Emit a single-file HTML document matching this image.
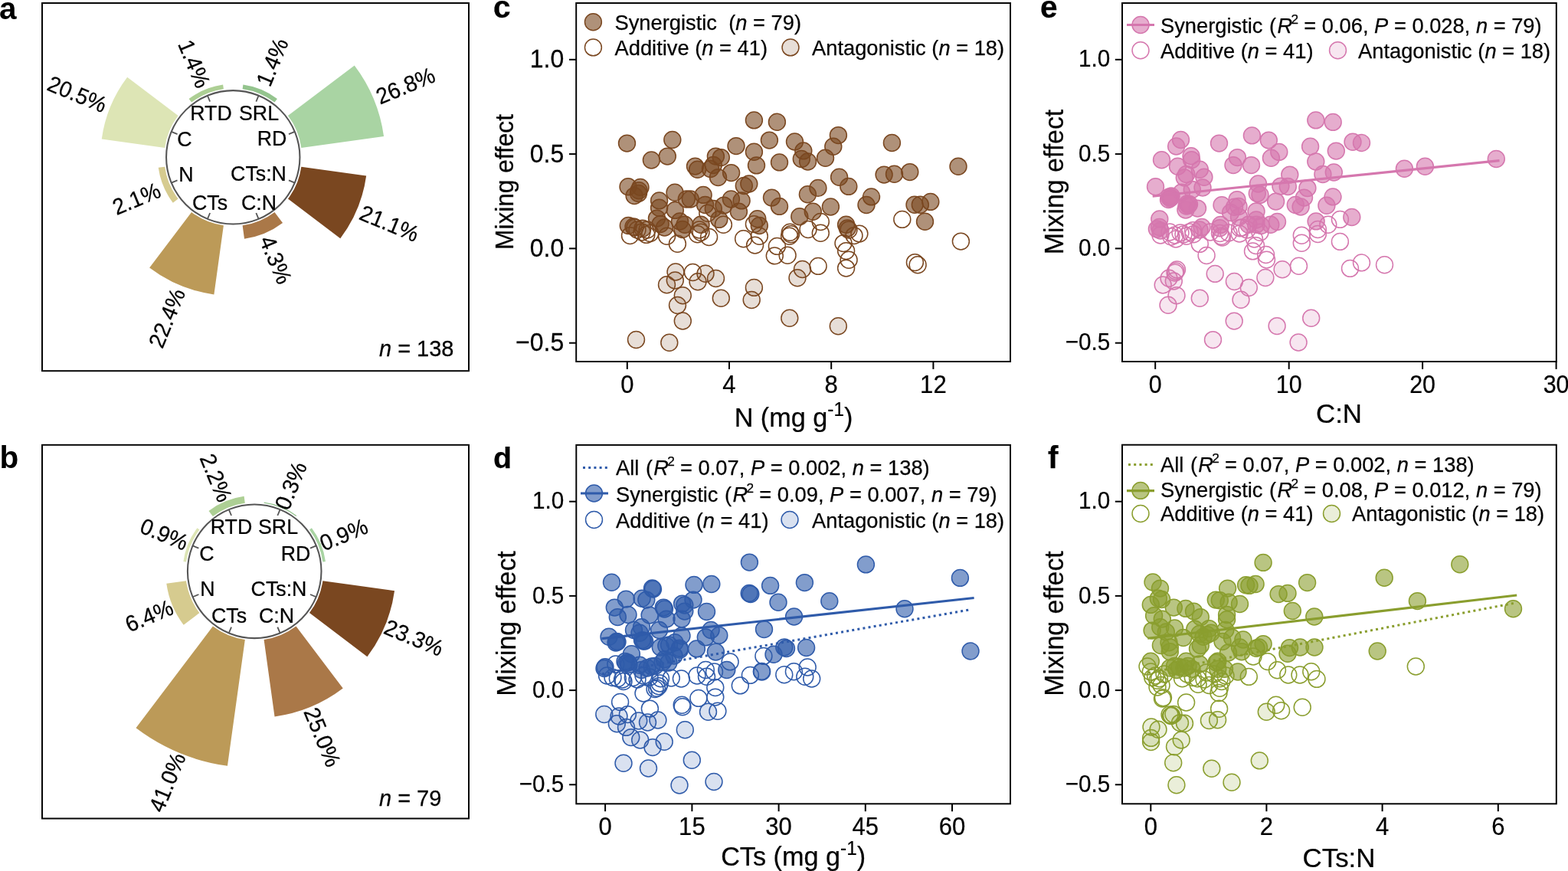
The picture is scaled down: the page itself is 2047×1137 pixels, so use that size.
<!DOCTYPE html>
<html><head><meta charset="utf-8"><title>Figure</title>
<style>html,body{margin:0;padding:0;background:#fff;overflow:hidden}svg{display:block}text{white-space:pre}</style></head>
<body><svg width="2047" height="1137" viewBox="0 0 2047 1137">
<rect width="2047" height="1137" fill="#fff"/>
<rect x="55" y="4" width="557" height="480.2" fill="none" stroke="#000" stroke-width="1.95"/>
<path d="M393.30,192.94 L501.07,177.99 A198.71,198.71 0 0 0 462.74,85.44 L375.95,151.07 A89.90,89.90 0 0 1 393.30,192.94 Z" fill="#a9d4a3"/>
<path d="M358.48,133.60 L361.91,129.06 A95.58,95.58 0 0 0 317.39,110.62 L316.61,116.25 A89.90,89.90 0 0 1 358.48,133.60 Z" fill="#94c48e"/>
<path d="M291.89,116.25 L291.11,110.62 A95.58,95.58 0 0 0 246.59,129.06 L250.02,133.60 A89.90,89.90 0 0 1 291.89,116.25 Z" fill="#adcf94"/>
<path d="M232.55,151.07 L166.16,100.87 A173.13,173.13 0 0 0 132.76,181.50 L215.20,192.94 A89.90,89.90 0 0 1 232.55,151.07 Z" fill="#dde5b5"/>
<path d="M215.20,217.66 L206.76,218.83 A98.43,98.43 0 0 0 225.75,264.67 L232.55,259.53 A89.90,89.90 0 0 1 215.20,217.66 Z" fill="#d6cb8f"/>
<path d="M250.02,277.00 L195.16,349.54 A180.84,180.84 0 0 0 279.39,384.43 L291.89,294.35 A89.90,89.90 0 0 1 250.02,277.00 Z" fill="#bc9a58"/>
<path d="M316.61,294.35 L319.01,311.64 A107.36,107.36 0 0 0 369.01,290.93 L358.48,277.00 A89.90,89.90 0 0 1 316.61,294.35 Z" fill="#aa7848"/>
<path d="M375.95,259.53 L444.28,311.20 A175.57,175.57 0 0 0 478.15,229.43 L393.30,217.66 A89.90,89.90 0 0 1 375.95,259.53 Z" fill="#7a4720"/>
<circle cx="304.25" cy="205.3" r="87.2" fill="#fff" stroke="#555" stroke-width="2.05"/>
<line x1="384.81" y1="171.93" x2="376.96" y2="175.18" stroke="#555" stroke-width="1.8"/>
<line x1="337.62" y1="124.74" x2="334.37" y2="132.59" stroke="#555" stroke-width="1.8"/>
<line x1="270.88" y1="124.74" x2="274.13" y2="132.59" stroke="#555" stroke-width="1.8"/>
<line x1="223.69" y1="171.93" x2="231.54" y2="175.18" stroke="#555" stroke-width="1.8"/>
<line x1="223.69" y1="238.67" x2="231.54" y2="235.42" stroke="#555" stroke-width="1.8"/>
<line x1="270.88" y1="285.86" x2="274.13" y2="278.01" stroke="#555" stroke-width="1.8"/>
<line x1="337.62" y1="285.86" x2="334.37" y2="278.01" stroke="#555" stroke-width="1.8"/>
<line x1="384.81" y1="238.67" x2="376.96" y2="235.42" stroke="#555" stroke-width="1.8"/>
<text transform="translate(275.5,156.5) scale(0.98,1)" font-family="Liberation Sans, sans-serif" font-size="27.3" text-anchor="middle" fill="#000" stroke="#000" stroke-width="0.25">RTD</text>
<text transform="translate(338,156.5) scale(0.98,1)" font-family="Liberation Sans, sans-serif" font-size="27.3" text-anchor="middle" fill="#000" stroke="#000" stroke-width="0.25">SRL</text>
<text transform="translate(241,190.5) scale(0.98,1)" font-family="Liberation Sans, sans-serif" font-size="27.3" text-anchor="middle" fill="#000" stroke="#000" stroke-width="0.25">C</text>
<text transform="translate(355,190) scale(0.98,1)" font-family="Liberation Sans, sans-serif" font-size="27.3" text-anchor="middle" fill="#000" stroke="#000" stroke-width="0.25">RD</text>
<text transform="translate(243,237) scale(0.98,1)" font-family="Liberation Sans, sans-serif" font-size="27.3" text-anchor="middle" fill="#000" stroke="#000" stroke-width="0.25">N</text>
<text transform="translate(337.5,236) scale(0.98,1)" font-family="Liberation Sans, sans-serif" font-size="27.3" text-anchor="middle" fill="#000" stroke="#000" stroke-width="0.25">CTs:N</text>
<text transform="translate(274,274) scale(0.98,1)" font-family="Liberation Sans, sans-serif" font-size="27.3" text-anchor="middle" fill="#000" stroke="#000" stroke-width="0.25">CTs</text>
<text transform="translate(338,274) scale(0.98,1)" font-family="Liberation Sans, sans-serif" font-size="27.3" text-anchor="middle" fill="#000" stroke="#000" stroke-width="0.25">C:N</text>
<text transform="translate(529.2,111.5) rotate(-22.5) scale(0.96,1)" font-family="Liberation Sans, sans-serif" font-size="29.5" text-anchor="middle" fill="#000" dy="0.36em" stroke="#000" stroke-width="0.25">26.8%</text>
<text transform="translate(355,81) rotate(-67.5) scale(0.96,1)" font-family="Liberation Sans, sans-serif" font-size="29.5" text-anchor="middle" fill="#000" dy="0.36em" stroke="#000" stroke-width="0.25">1.4%</text>
<text transform="translate(254,83) rotate(67.5) scale(0.96,1)" font-family="Liberation Sans, sans-serif" font-size="29.5" text-anchor="middle" fill="#000" dy="0.36em" stroke="#000" stroke-width="0.25">1.4%</text>
<text transform="translate(101,122.5) rotate(22.5) scale(0.96,1)" font-family="Liberation Sans, sans-serif" font-size="29.5" text-anchor="middle" fill="#000" dy="0.36em" stroke="#000" stroke-width="0.25">20.5%</text>
<text transform="translate(178,259) rotate(-22.5) scale(0.96,1)" font-family="Liberation Sans, sans-serif" font-size="29.5" text-anchor="middle" fill="#000" dy="0.36em" stroke="#000" stroke-width="0.25">2.1%</text>
<text transform="translate(217.5,415) rotate(-67.5) scale(0.96,1)" font-family="Liberation Sans, sans-serif" font-size="29.5" text-anchor="middle" fill="#000" dy="0.36em" stroke="#000" stroke-width="0.25">22.4%</text>
<text transform="translate(360.5,339) rotate(67.5) scale(0.96,1)" font-family="Liberation Sans, sans-serif" font-size="29.5" text-anchor="middle" fill="#000" dy="0.36em" stroke="#000" stroke-width="0.25">4.3%</text>
<text transform="translate(508.5,291.3) rotate(22.5) scale(0.96,1)" font-family="Liberation Sans, sans-serif" font-size="29.5" text-anchor="middle" fill="#000" dy="0.36em" stroke="#000" stroke-width="0.25">21.1%</text>
<text transform="translate(495,465) scale(0.985,1)" font-family="Liberation Sans, sans-serif" font-size="29.4" fill="#000" stroke="#000" stroke-width="0.25"><tspan font-style="italic">n</tspan> = 138</text>
<text x="-1" y="25.2" font-family="Liberation Sans, sans-serif" font-size="40.5" font-weight="bold" fill="#000">a</text>
<rect x="55" y="580.8" width="557" height="487.70000000000005" fill="none" stroke="#000" stroke-width="1.95"/>
<path d="M421.35,733.43 L424.97,732.93 A93.65,93.65 0 0 0 406.90,689.31 L403.98,691.51 A90.00,90.00 0 0 1 421.35,733.43 Z" fill="#a9d4a3"/>
<path d="M386.49,674.02 L387.22,673.05 A91.22,91.22 0 0 0 344.74,655.45 L344.57,656.65 A90.00,90.00 0 0 1 386.49,674.02 Z" fill="#94c48e"/>
<path d="M319.83,656.65 L318.60,647.81 A98.93,98.93 0 0 0 272.52,666.89 L277.91,674.02 A90.00,90.00 0 0 1 319.83,656.65 Z" fill="#adcf94"/>
<path d="M260.42,691.51 L257.50,689.31 A93.65,93.65 0 0 0 239.43,732.93 L243.05,733.43 A90.00,90.00 0 0 1 260.42,691.51 Z" fill="#dde5b5"/>
<path d="M243.05,758.17 L217.32,761.74 A115.98,115.98 0 0 0 239.69,815.76 L260.42,800.09 A90.00,90.00 0 0 1 243.05,758.17 Z" fill="#d6cb8f"/>
<path d="M277.91,817.58 L177.50,950.35 A256.46,256.46 0 0 0 296.95,999.83 L319.83,834.95 A90.00,90.00 0 0 1 277.91,817.58 Z" fill="#bc9a58"/>
<path d="M344.57,834.95 L358.52,935.48 A191.50,191.50 0 0 0 447.71,898.54 L386.49,817.58 A90.00,90.00 0 0 1 344.57,834.95 Z" fill="#aa7848"/>
<path d="M403.98,800.09 L479.43,857.15 A184.60,184.60 0 0 0 515.05,771.17 L421.35,758.17 A90.00,90.00 0 0 1 403.98,800.09 Z" fill="#7a4720"/>
<circle cx="332.2" cy="745.8" r="87.3" fill="#fff" stroke="#555" stroke-width="2.05"/>
<line x1="412.85" y1="712.39" x2="405.00" y2="715.64" stroke="#555" stroke-width="1.8"/>
<line x1="365.61" y1="665.15" x2="362.36" y2="673.00" stroke="#555" stroke-width="1.8"/>
<line x1="298.79" y1="665.15" x2="302.04" y2="673.00" stroke="#555" stroke-width="1.8"/>
<line x1="251.55" y1="712.39" x2="259.40" y2="715.64" stroke="#555" stroke-width="1.8"/>
<line x1="251.55" y1="779.21" x2="259.40" y2="775.96" stroke="#555" stroke-width="1.8"/>
<line x1="298.79" y1="826.45" x2="302.04" y2="818.60" stroke="#555" stroke-width="1.8"/>
<line x1="365.61" y1="826.45" x2="362.36" y2="818.60" stroke="#555" stroke-width="1.8"/>
<line x1="412.85" y1="779.21" x2="405.00" y2="775.96" stroke="#555" stroke-width="1.8"/>
<text transform="translate(302,697) scale(0.98,1)" font-family="Liberation Sans, sans-serif" font-size="27.3" text-anchor="middle" fill="#000" stroke="#000" stroke-width="0.25">RTD</text>
<text transform="translate(363,697) scale(0.98,1)" font-family="Liberation Sans, sans-serif" font-size="27.3" text-anchor="middle" fill="#000" stroke="#000" stroke-width="0.25">SRL</text>
<text transform="translate(270,732) scale(0.98,1)" font-family="Liberation Sans, sans-serif" font-size="27.3" text-anchor="middle" fill="#000" stroke="#000" stroke-width="0.25">C</text>
<text transform="translate(386,732) scale(0.98,1)" font-family="Liberation Sans, sans-serif" font-size="27.3" text-anchor="middle" fill="#000" stroke="#000" stroke-width="0.25">RD</text>
<text transform="translate(271,778) scale(0.98,1)" font-family="Liberation Sans, sans-serif" font-size="27.3" text-anchor="middle" fill="#000" stroke="#000" stroke-width="0.25">N</text>
<text transform="translate(364,778) scale(0.98,1)" font-family="Liberation Sans, sans-serif" font-size="27.3" text-anchor="middle" fill="#000" stroke="#000" stroke-width="0.25">CTs:N</text>
<text transform="translate(299,813) scale(0.98,1)" font-family="Liberation Sans, sans-serif" font-size="27.3" text-anchor="middle" fill="#000" stroke="#000" stroke-width="0.25">CTs</text>
<text transform="translate(361,813) scale(0.98,1)" font-family="Liberation Sans, sans-serif" font-size="27.3" text-anchor="middle" fill="#000" stroke="#000" stroke-width="0.25">C:N</text>
<text transform="translate(448.5,697.5) rotate(-22.5) scale(0.96,1)" font-family="Liberation Sans, sans-serif" font-size="29.5" text-anchor="middle" fill="#000" dy="0.36em" stroke="#000" stroke-width="0.25">0.9%</text>
<text transform="translate(379.2,634) rotate(-67.5) scale(0.96,1)" font-family="Liberation Sans, sans-serif" font-size="29.5" text-anchor="middle" fill="#000" dy="0.36em" stroke="#000" stroke-width="0.25">0.3%</text>
<text transform="translate(282.5,623.5) rotate(67.5) scale(0.96,1)" font-family="Liberation Sans, sans-serif" font-size="29.5" text-anchor="middle" fill="#000" dy="0.36em" stroke="#000" stroke-width="0.25">2.2%</text>
<text transform="translate(214.5,697) rotate(22.5) scale(0.96,1)" font-family="Liberation Sans, sans-serif" font-size="29.5" text-anchor="middle" fill="#000" dy="0.36em" stroke="#000" stroke-width="0.25">0.9%</text>
<text transform="translate(194.5,803.5) rotate(-22.5) scale(0.96,1)" font-family="Liberation Sans, sans-serif" font-size="29.5" text-anchor="middle" fill="#000" dy="0.36em" stroke="#000" stroke-width="0.25">6.4%</text>
<text transform="translate(218,1021) rotate(-67.5) scale(0.96,1)" font-family="Liberation Sans, sans-serif" font-size="29.5" text-anchor="middle" fill="#000" dy="0.36em" stroke="#000" stroke-width="0.25">41.0%</text>
<text transform="translate(421.3,962) rotate(67.5) scale(0.96,1)" font-family="Liberation Sans, sans-serif" font-size="29.5" text-anchor="middle" fill="#000" dy="0.36em" stroke="#000" stroke-width="0.25">25.0%</text>
<text transform="translate(540.5,832) rotate(22.5) scale(0.96,1)" font-family="Liberation Sans, sans-serif" font-size="29.5" text-anchor="middle" fill="#000" dy="0.36em" stroke="#000" stroke-width="0.25">23.3%</text>
<text transform="translate(495,1052) scale(0.985,1)" font-family="Liberation Sans, sans-serif" font-size="29.4" fill="#000" stroke="#000" stroke-width="0.25"><tspan font-style="italic">n</tspan> = 79</text>
<text x="-0.5" y="611.1" font-family="Liberation Sans, sans-serif" font-size="40.5" font-weight="bold" fill="#000">b</text>
<rect x="752.2" y="4" width="566.8" height="468" fill="none" stroke="#000" stroke-width="1.95"/>
<line x1="818.8" y1="472" x2="818.8" y2="481.9" stroke="#000" stroke-width="2.0"/>
<text transform="translate(818.8,513) scale(0.93,1)" font-family="Liberation Sans, sans-serif" font-size="33.4" text-anchor="middle" fill="#000" stroke="#000" stroke-width="0.25">0</text>
<line x1="952" y1="472" x2="952" y2="481.9" stroke="#000" stroke-width="2.0"/>
<text transform="translate(952,513) scale(0.93,1)" font-family="Liberation Sans, sans-serif" font-size="33.4" text-anchor="middle" fill="#000" stroke="#000" stroke-width="0.25">4</text>
<line x1="1085.2" y1="472" x2="1085.2" y2="481.9" stroke="#000" stroke-width="2.0"/>
<text transform="translate(1085.2,513) scale(0.93,1)" font-family="Liberation Sans, sans-serif" font-size="33.4" text-anchor="middle" fill="#000" stroke="#000" stroke-width="0.25">8</text>
<line x1="1218.4" y1="472" x2="1218.4" y2="481.9" stroke="#000" stroke-width="2.0"/>
<text transform="translate(1218.4,513) scale(0.93,1)" font-family="Liberation Sans, sans-serif" font-size="33.4" text-anchor="middle" fill="#000" stroke="#000" stroke-width="0.25">12</text>
<line x1="743.0" y1="77.8" x2="752.2" y2="77.8" stroke="#000" stroke-width="2.0"/>
<text transform="translate(736.2,88.2) scale(0.95,1)" font-family="Liberation Sans, sans-serif" font-size="33.7" text-anchor="end" fill="#000" stroke="#000" stroke-width="0.25">1.0</text>
<line x1="743.0" y1="201.1" x2="752.2" y2="201.1" stroke="#000" stroke-width="2.0"/>
<text transform="translate(736.2,211.5) scale(0.95,1)" font-family="Liberation Sans, sans-serif" font-size="33.7" text-anchor="end" fill="#000" stroke="#000" stroke-width="0.25">0.5</text>
<line x1="743.0" y1="324.4" x2="752.2" y2="324.4" stroke="#000" stroke-width="2.0"/>
<text transform="translate(736.2,334.79999999999995) scale(0.95,1)" font-family="Liberation Sans, sans-serif" font-size="33.7" text-anchor="end" fill="#000" stroke="#000" stroke-width="0.25">0.0</text>
<line x1="743.0" y1="447.7" x2="752.2" y2="447.7" stroke="#000" stroke-width="2.0"/>
<text transform="translate(736.2,458.09999999999997) scale(0.95,1)" font-family="Liberation Sans, sans-serif" font-size="33.7" text-anchor="end" fill="#000" stroke="#000" stroke-width="0.25">−0.5</text>
<text transform="translate(1036,557) scale(0.9725,1)" font-family="Liberation Sans, sans-serif" font-size="35.2" text-anchor="middle" fill="#000" stroke="#000" stroke-width="0.25">N (mg g<tspan dy="-14.4" font-size="25.0">-1</tspan><tspan dy="14.4" font-size="35.2">&#8203;</tspan>)</text>
<text transform="translate(669.5,237.5) rotate(-90) scale(0.947,1)" font-family="Liberation Sans, sans-serif" font-size="33.4" text-anchor="middle" fill="#000" stroke="#000" stroke-width="0.25">Mixing effect</text>
<text transform="translate(644,22.6)" font-family="Liberation Sans, sans-serif" font-size="40.5" text-anchor="start" fill="#000" font-weight="bold" stroke="#000" stroke-width="0.25">c</text>
<g>
<circle cx="822.5" cy="307.6" r="10.95" fill="#7a4720" fill-opacity="0.0" stroke="#7a4720" stroke-width="1.5"/>
<circle cx="843.8" cy="306.4" r="10.95" fill="#7a4720" fill-opacity="0.0" stroke="#7a4720" stroke-width="1.5"/>
<circle cx="848.8" cy="304.5" r="10.95" fill="#7a4720" fill-opacity="0.0" stroke="#7a4720" stroke-width="1.5"/>
<circle cx="870.6" cy="308.3" r="10.95" fill="#7a4720" fill-opacity="0.0" stroke="#7a4720" stroke-width="1.5"/>
<circle cx="884.4" cy="318.3" r="10.95" fill="#7a4720" fill-opacity="0.0" stroke="#7a4720" stroke-width="1.5"/>
<circle cx="910.6" cy="305.8" r="10.95" fill="#7a4720" fill-opacity="0.0" stroke="#7a4720" stroke-width="1.5"/>
<circle cx="915.0" cy="303.3" r="10.95" fill="#7a4720" fill-opacity="0.0" stroke="#7a4720" stroke-width="1.5"/>
<circle cx="925.6" cy="309.5" r="10.95" fill="#7a4720" fill-opacity="0.0" stroke="#7a4720" stroke-width="1.5"/>
<circle cx="944.4" cy="293.3" r="10.95" fill="#7a4720" fill-opacity="0.0" stroke="#7a4720" stroke-width="1.5"/>
<circle cx="923.8" cy="278.3" r="10.95" fill="#7a4720" fill-opacity="0.0" stroke="#7a4720" stroke-width="1.5"/>
<circle cx="970.6" cy="311.8" r="10.95" fill="#7a4720" fill-opacity="0.0" stroke="#7a4720" stroke-width="1.5"/>
<circle cx="985.6" cy="320.1" r="10.95" fill="#7a4720" fill-opacity="0.0" stroke="#7a4720" stroke-width="1.5"/>
<circle cx="984.4" cy="292.6" r="10.95" fill="#7a4720" fill-opacity="0.0" stroke="#7a4720" stroke-width="1.5"/>
<circle cx="991.3" cy="308.3" r="10.95" fill="#7a4720" fill-opacity="0.0" stroke="#7a4720" stroke-width="1.5"/>
<circle cx="1014.4" cy="321.4" r="10.95" fill="#7a4720" fill-opacity="0.0" stroke="#7a4720" stroke-width="1.5"/>
<circle cx="1031.3" cy="303.3" r="10.95" fill="#7a4720" fill-opacity="0.0" stroke="#7a4720" stroke-width="1.5"/>
<circle cx="1032.5" cy="305.8" r="10.95" fill="#7a4720" fill-opacity="0.0" stroke="#7a4720" stroke-width="1.5"/>
<circle cx="1030.6" cy="308.3" r="10.95" fill="#7a4720" fill-opacity="0.0" stroke="#7a4720" stroke-width="1.5"/>
<circle cx="1055.0" cy="299.5" r="10.95" fill="#7a4720" fill-opacity="0.0" stroke="#7a4720" stroke-width="1.5"/>
<circle cx="1011.3" cy="333.9" r="10.95" fill="#7a4720" fill-opacity="0.0" stroke="#7a4720" stroke-width="1.5"/>
<circle cx="1028.1" cy="333.3" r="10.95" fill="#7a4720" fill-opacity="0.0" stroke="#7a4720" stroke-width="1.5"/>
<circle cx="904.4" cy="355.5" r="10.95" fill="#7a4720" fill-opacity="0.0" stroke="#7a4720" stroke-width="1.5"/>
<circle cx="1071.3" cy="289.5" r="10.95" fill="#7a4720" fill-opacity="0.0" stroke="#7a4720" stroke-width="1.5"/>
<circle cx="1071.3" cy="304.3" r="10.95" fill="#7a4720" fill-opacity="0.0" stroke="#7a4720" stroke-width="1.5"/>
<circle cx="1177.8" cy="286.4" r="10.95" fill="#7a4720" fill-opacity="0.0" stroke="#7a4720" stroke-width="1.5"/>
<circle cx="1254.4" cy="315.1" r="10.95" fill="#7a4720" fill-opacity="0.0" stroke="#7a4720" stroke-width="1.5"/>
<circle cx="1121.9" cy="305.1" r="10.95" fill="#7a4720" fill-opacity="0.0" stroke="#7a4720" stroke-width="1.5"/>
<circle cx="1115.0" cy="307.6" r="10.95" fill="#7a4720" fill-opacity="0.0" stroke="#7a4720" stroke-width="1.5"/>
<circle cx="1108.0" cy="300.0" r="10.95" fill="#7a4720" fill-opacity="0.0" stroke="#7a4720" stroke-width="1.5"/>
<circle cx="1101.0" cy="317.6" r="10.95" fill="#7a4720" fill-opacity="0.0" stroke="#7a4720" stroke-width="1.5"/>
<circle cx="1104.6" cy="327.6" r="10.95" fill="#7a4720" fill-opacity="0.0" stroke="#7a4720" stroke-width="1.5"/>
<circle cx="1108.1" cy="339.3" r="10.95" fill="#7a4720" fill-opacity="0.0" stroke="#7a4720" stroke-width="1.5"/>
<circle cx="1104.6" cy="350.1" r="10.95" fill="#7a4720" fill-opacity="0.0" stroke="#7a4720" stroke-width="1.5"/>
<circle cx="1068.1" cy="347.4" r="10.95" fill="#7a4720" fill-opacity="0.0" stroke="#7a4720" stroke-width="1.5"/>
<circle cx="1194.4" cy="342.6" r="10.95" fill="#7a4720" fill-opacity="0.0" stroke="#7a4720" stroke-width="1.5"/>
<circle cx="1198.1" cy="345.8" r="10.95" fill="#7a4720" fill-opacity="0.0" stroke="#7a4720" stroke-width="1.5"/>
<circle cx="832.0" cy="300.0" r="10.95" fill="#7a4720" fill-opacity="0.0" stroke="#7a4720" stroke-width="1.5"/>
<circle cx="838.0" cy="303.0" r="10.95" fill="#7a4720" fill-opacity="0.0" stroke="#7a4720" stroke-width="1.5"/>
<circle cx="829.0" cy="297.0" r="10.95" fill="#7a4720" fill-opacity="0.0" stroke="#7a4720" stroke-width="1.5"/>
<circle cx="845.0" cy="300.0" r="10.95" fill="#7a4720" fill-opacity="0.0" stroke="#7a4720" stroke-width="1.5"/>
<circle cx="913.0" cy="300.0" r="10.95" fill="#7a4720" fill-opacity="0.0" stroke="#7a4720" stroke-width="1.5"/>
<circle cx="830.5" cy="443.5" r="10.95" fill="#7a4720" fill-opacity="0.18" stroke="#7a4720" stroke-width="1.5"/>
<circle cx="873.8" cy="447.3" r="10.95" fill="#7a4720" fill-opacity="0.18" stroke="#7a4720" stroke-width="1.5"/>
<circle cx="891.3" cy="419.0" r="10.95" fill="#7a4720" fill-opacity="0.18" stroke="#7a4720" stroke-width="1.5"/>
<circle cx="884.5" cy="398.5" r="10.95" fill="#7a4720" fill-opacity="0.18" stroke="#7a4720" stroke-width="1.5"/>
<circle cx="891.3" cy="385.8" r="10.95" fill="#7a4720" fill-opacity="0.18" stroke="#7a4720" stroke-width="1.5"/>
<circle cx="870.5" cy="371.8" r="10.95" fill="#7a4720" fill-opacity="0.18" stroke="#7a4720" stroke-width="1.5"/>
<circle cx="881.3" cy="366.0" r="10.95" fill="#7a4720" fill-opacity="0.18" stroke="#7a4720" stroke-width="1.5"/>
<circle cx="882.0" cy="355.0" r="10.95" fill="#7a4720" fill-opacity="0.18" stroke="#7a4720" stroke-width="1.5"/>
<circle cx="911.0" cy="367.7" r="10.95" fill="#7a4720" fill-opacity="0.18" stroke="#7a4720" stroke-width="1.5"/>
<circle cx="921.0" cy="357.3" r="10.95" fill="#7a4720" fill-opacity="0.18" stroke="#7a4720" stroke-width="1.5"/>
<circle cx="934.5" cy="363.5" r="10.95" fill="#7a4720" fill-opacity="0.18" stroke="#7a4720" stroke-width="1.5"/>
<circle cx="941.3" cy="389.2" r="10.95" fill="#7a4720" fill-opacity="0.18" stroke="#7a4720" stroke-width="1.5"/>
<circle cx="984.4" cy="375.4" r="10.95" fill="#7a4720" fill-opacity="0.18" stroke="#7a4720" stroke-width="1.5"/>
<circle cx="981.2" cy="391.5" r="10.95" fill="#7a4720" fill-opacity="0.18" stroke="#7a4720" stroke-width="1.5"/>
<circle cx="1030.8" cy="415.3" r="10.95" fill="#7a4720" fill-opacity="0.18" stroke="#7a4720" stroke-width="1.5"/>
<circle cx="1094.3" cy="425.8" r="10.95" fill="#7a4720" fill-opacity="0.18" stroke="#7a4720" stroke-width="1.5"/>
<circle cx="1047.5" cy="351.5" r="10.95" fill="#7a4720" fill-opacity="0.18" stroke="#7a4720" stroke-width="1.5"/>
<circle cx="1041.0" cy="362.8" r="10.95" fill="#7a4720" fill-opacity="0.18" stroke="#7a4720" stroke-width="1.5"/>
<circle cx="818.5" cy="187.1" r="10.95" fill="#7a4720" fill-opacity="0.6" stroke="#7a4720" stroke-width="1.5"/>
<circle cx="877.8" cy="182.5" r="10.95" fill="#7a4720" fill-opacity="0.6" stroke="#7a4720" stroke-width="1.5"/>
<circle cx="871.3" cy="204.1" r="10.95" fill="#7a4720" fill-opacity="0.6" stroke="#7a4720" stroke-width="1.5"/>
<circle cx="850.4" cy="209.0" r="10.95" fill="#7a4720" fill-opacity="0.6" stroke="#7a4720" stroke-width="1.5"/>
<circle cx="984.4" cy="156.9" r="10.95" fill="#7a4720" fill-opacity="0.6" stroke="#7a4720" stroke-width="1.5"/>
<circle cx="1014.4" cy="159.3" r="10.95" fill="#7a4720" fill-opacity="0.6" stroke="#7a4720" stroke-width="1.5"/>
<circle cx="1004.4" cy="183.1" r="10.95" fill="#7a4720" fill-opacity="0.6" stroke="#7a4720" stroke-width="1.5"/>
<circle cx="961.0" cy="190.6" r="10.95" fill="#7a4720" fill-opacity="0.6" stroke="#7a4720" stroke-width="1.5"/>
<circle cx="984.4" cy="198.3" r="10.95" fill="#7a4720" fill-opacity="0.6" stroke="#7a4720" stroke-width="1.5"/>
<circle cx="1037.5" cy="185.0" r="10.95" fill="#7a4720" fill-opacity="0.6" stroke="#7a4720" stroke-width="1.5"/>
<circle cx="1048.8" cy="196.9" r="10.95" fill="#7a4720" fill-opacity="0.6" stroke="#7a4720" stroke-width="1.5"/>
<circle cx="1046.3" cy="207.5" r="10.95" fill="#7a4720" fill-opacity="0.6" stroke="#7a4720" stroke-width="1.5"/>
<circle cx="1054.6" cy="211.0" r="10.95" fill="#7a4720" fill-opacity="0.6" stroke="#7a4720" stroke-width="1.5"/>
<circle cx="987.5" cy="215.9" r="10.95" fill="#7a4720" fill-opacity="0.6" stroke="#7a4720" stroke-width="1.5"/>
<circle cx="1017.5" cy="211.9" r="10.95" fill="#7a4720" fill-opacity="0.6" stroke="#7a4720" stroke-width="1.5"/>
<circle cx="934.4" cy="204.1" r="10.95" fill="#7a4720" fill-opacity="0.6" stroke="#7a4720" stroke-width="1.5"/>
<circle cx="941.3" cy="205.6" r="10.95" fill="#7a4720" fill-opacity="0.6" stroke="#7a4720" stroke-width="1.5"/>
<circle cx="931.3" cy="215.5" r="10.95" fill="#7a4720" fill-opacity="0.6" stroke="#7a4720" stroke-width="1.5"/>
<circle cx="907.5" cy="217.1" r="10.95" fill="#7a4720" fill-opacity="0.6" stroke="#7a4720" stroke-width="1.5"/>
<circle cx="910.6" cy="221.3" r="10.95" fill="#7a4720" fill-opacity="0.6" stroke="#7a4720" stroke-width="1.5"/>
<circle cx="927.5" cy="220.5" r="10.95" fill="#7a4720" fill-opacity="0.6" stroke="#7a4720" stroke-width="1.5"/>
<circle cx="937.5" cy="231.6" r="10.95" fill="#7a4720" fill-opacity="0.6" stroke="#7a4720" stroke-width="1.5"/>
<circle cx="954.6" cy="225.6" r="10.95" fill="#7a4720" fill-opacity="0.6" stroke="#7a4720" stroke-width="1.5"/>
<circle cx="971.3" cy="242.5" r="10.95" fill="#7a4720" fill-opacity="0.6" stroke="#7a4720" stroke-width="1.5"/>
<circle cx="977.8" cy="240.0" r="10.95" fill="#7a4720" fill-opacity="0.6" stroke="#7a4720" stroke-width="1.5"/>
<circle cx="820.0" cy="243.8" r="10.95" fill="#7a4720" fill-opacity="0.6" stroke="#7a4720" stroke-width="1.5"/>
<circle cx="836.0" cy="244.4" r="10.95" fill="#7a4720" fill-opacity="0.6" stroke="#7a4720" stroke-width="1.5"/>
<circle cx="834.0" cy="248.8" r="10.95" fill="#7a4720" fill-opacity="0.6" stroke="#7a4720" stroke-width="1.5"/>
<circle cx="828.1" cy="255.6" r="10.95" fill="#7a4720" fill-opacity="0.6" stroke="#7a4720" stroke-width="1.5"/>
<circle cx="833.5" cy="252.5" r="10.95" fill="#7a4720" fill-opacity="0.6" stroke="#7a4720" stroke-width="1.5"/>
<circle cx="881.0" cy="251.3" r="10.95" fill="#7a4720" fill-opacity="0.6" stroke="#7a4720" stroke-width="1.5"/>
<circle cx="860.6" cy="261.9" r="10.95" fill="#7a4720" fill-opacity="0.6" stroke="#7a4720" stroke-width="1.5"/>
<circle cx="860.6" cy="271.3" r="10.95" fill="#7a4720" fill-opacity="0.6" stroke="#7a4720" stroke-width="1.5"/>
<circle cx="896.3" cy="260.0" r="10.95" fill="#7a4720" fill-opacity="0.6" stroke="#7a4720" stroke-width="1.5"/>
<circle cx="901.3" cy="260.0" r="10.95" fill="#7a4720" fill-opacity="0.6" stroke="#7a4720" stroke-width="1.5"/>
<circle cx="918.1" cy="254.4" r="10.95" fill="#7a4720" fill-opacity="0.6" stroke="#7a4720" stroke-width="1.5"/>
<circle cx="920.6" cy="267.5" r="10.95" fill="#7a4720" fill-opacity="0.6" stroke="#7a4720" stroke-width="1.5"/>
<circle cx="954.4" cy="260.0" r="10.95" fill="#7a4720" fill-opacity="0.6" stroke="#7a4720" stroke-width="1.5"/>
<circle cx="968.1" cy="261.9" r="10.95" fill="#7a4720" fill-opacity="0.6" stroke="#7a4720" stroke-width="1.5"/>
<circle cx="945.0" cy="268.1" r="10.95" fill="#7a4720" fill-opacity="0.6" stroke="#7a4720" stroke-width="1.5"/>
<circle cx="931.3" cy="272.5" r="10.95" fill="#7a4720" fill-opacity="0.6" stroke="#7a4720" stroke-width="1.5"/>
<circle cx="1007.5" cy="258.1" r="10.95" fill="#7a4720" fill-opacity="0.6" stroke="#7a4720" stroke-width="1.5"/>
<circle cx="1017.5" cy="269.4" r="10.95" fill="#7a4720" fill-opacity="0.6" stroke="#7a4720" stroke-width="1.5"/>
<circle cx="1054.4" cy="253.8" r="10.95" fill="#7a4720" fill-opacity="0.6" stroke="#7a4720" stroke-width="1.5"/>
<circle cx="881.3" cy="274.4" r="10.95" fill="#7a4720" fill-opacity="0.6" stroke="#7a4720" stroke-width="1.5"/>
<circle cx="964.4" cy="276.3" r="10.95" fill="#7a4720" fill-opacity="0.6" stroke="#7a4720" stroke-width="1.5"/>
<circle cx="1094.4" cy="176.6" r="10.95" fill="#7a4720" fill-opacity="0.6" stroke="#7a4720" stroke-width="1.5"/>
<circle cx="1087.8" cy="191.3" r="10.95" fill="#7a4720" fill-opacity="0.6" stroke="#7a4720" stroke-width="1.5"/>
<circle cx="1077.5" cy="206.3" r="10.95" fill="#7a4720" fill-opacity="0.6" stroke="#7a4720" stroke-width="1.5"/>
<circle cx="1164.4" cy="186.5" r="10.95" fill="#7a4720" fill-opacity="0.6" stroke="#7a4720" stroke-width="1.5"/>
<circle cx="1251.0" cy="217.3" r="10.95" fill="#7a4720" fill-opacity="0.6" stroke="#7a4720" stroke-width="1.5"/>
<circle cx="1095.6" cy="231.3" r="10.95" fill="#7a4720" fill-opacity="0.6" stroke="#7a4720" stroke-width="1.5"/>
<circle cx="1107.8" cy="243.4" r="10.95" fill="#7a4720" fill-opacity="0.6" stroke="#7a4720" stroke-width="1.5"/>
<circle cx="1154.1" cy="228.1" r="10.95" fill="#7a4720" fill-opacity="0.6" stroke="#7a4720" stroke-width="1.5"/>
<circle cx="1167.5" cy="227.3" r="10.95" fill="#7a4720" fill-opacity="0.6" stroke="#7a4720" stroke-width="1.5"/>
<circle cx="1187.8" cy="224.6" r="10.95" fill="#7a4720" fill-opacity="0.6" stroke="#7a4720" stroke-width="1.5"/>
<circle cx="1067.9" cy="245.4" r="10.95" fill="#7a4720" fill-opacity="0.6" stroke="#7a4720" stroke-width="1.5"/>
<circle cx="1137.5" cy="256.9" r="10.95" fill="#7a4720" fill-opacity="0.6" stroke="#7a4720" stroke-width="1.5"/>
<circle cx="1131.0" cy="267.5" r="10.95" fill="#7a4720" fill-opacity="0.6" stroke="#7a4720" stroke-width="1.5"/>
<circle cx="1194.0" cy="267.3" r="10.95" fill="#7a4720" fill-opacity="0.6" stroke="#7a4720" stroke-width="1.5"/>
<circle cx="1201.3" cy="267.3" r="10.95" fill="#7a4720" fill-opacity="0.6" stroke="#7a4720" stroke-width="1.5"/>
<circle cx="1214.8" cy="263.4" r="10.95" fill="#7a4720" fill-opacity="0.6" stroke="#7a4720" stroke-width="1.5"/>
<circle cx="1084.4" cy="270.0" r="10.95" fill="#7a4720" fill-opacity="0.6" stroke="#7a4720" stroke-width="1.5"/>
<circle cx="1061.3" cy="276.3" r="10.95" fill="#7a4720" fill-opacity="0.6" stroke="#7a4720" stroke-width="1.5"/>
<circle cx="1043.8" cy="282.8" r="10.95" fill="#7a4720" fill-opacity="0.6" stroke="#7a4720" stroke-width="1.5"/>
<circle cx="1207.5" cy="289.3" r="10.95" fill="#7a4720" fill-opacity="0.6" stroke="#7a4720" stroke-width="1.5"/>
<circle cx="857.5" cy="285.1" r="10.95" fill="#7a4720" fill-opacity="0.6" stroke="#7a4720" stroke-width="1.5"/>
<circle cx="862.1" cy="292.6" r="10.95" fill="#7a4720" fill-opacity="0.6" stroke="#7a4720" stroke-width="1.5"/>
<circle cx="867.5" cy="297.0" r="10.95" fill="#7a4720" fill-opacity="0.6" stroke="#7a4720" stroke-width="1.5"/>
<circle cx="887.5" cy="289.0" r="10.95" fill="#7a4720" fill-opacity="0.6" stroke="#7a4720" stroke-width="1.5"/>
<circle cx="891.0" cy="299.5" r="10.95" fill="#7a4720" fill-opacity="0.6" stroke="#7a4720" stroke-width="1.5"/>
<circle cx="894.0" cy="293.3" r="10.95" fill="#7a4720" fill-opacity="0.6" stroke="#7a4720" stroke-width="1.5"/>
<circle cx="915.0" cy="293.3" r="10.95" fill="#7a4720" fill-opacity="0.6" stroke="#7a4720" stroke-width="1.5"/>
<circle cx="938.8" cy="286.4" r="10.95" fill="#7a4720" fill-opacity="0.6" stroke="#7a4720" stroke-width="1.5"/>
<circle cx="988.8" cy="285.8" r="10.95" fill="#7a4720" fill-opacity="0.6" stroke="#7a4720" stroke-width="1.5"/>
<circle cx="991.3" cy="294.5" r="10.95" fill="#7a4720" fill-opacity="0.6" stroke="#7a4720" stroke-width="1.5"/>
<circle cx="820.3" cy="294.5" r="10.95" fill="#7a4720" fill-opacity="0.6" stroke="#7a4720" stroke-width="1.5"/>
<circle cx="827.0" cy="296.0" r="10.95" fill="#7a4720" fill-opacity="0.6" stroke="#7a4720" stroke-width="1.5"/>
<circle cx="838.8" cy="298.3" r="10.95" fill="#7a4720" fill-opacity="0.6" stroke="#7a4720" stroke-width="1.5"/>
<circle cx="1104.6" cy="293.3" r="10.95" fill="#7a4720" fill-opacity="0.6" stroke="#7a4720" stroke-width="1.5"/>
<circle cx="1106.3" cy="298.0" r="10.95" fill="#7a4720" fill-opacity="0.6" stroke="#7a4720" stroke-width="1.5"/>
</g>
<circle cx="774.4" cy="28.8" r="10.95" fill="#7a4720" fill-opacity="0.6" stroke="#7a4720" stroke-width="1.5"/>
<text transform="translate(802.5,38.6)" font-family="Liberation Sans, sans-serif" font-size="27.3" text-anchor="start" fill="#000" stroke="#000" stroke-width="0.25">Synergistic  (<tspan font-style="italic">n</tspan> = 79)</text>
<circle cx="774.4" cy="61.9" r="10.95" fill="#7a4720" fill-opacity="0.0" stroke="#7a4720" stroke-width="1.5"/>
<text transform="translate(802.5,72)" font-family="Liberation Sans, sans-serif" font-size="27.3" text-anchor="start" fill="#000" stroke="#000" stroke-width="0.25">Additive (<tspan font-style="italic">n</tspan> = 41)</text>
<circle cx="1032.0" cy="61.9" r="10.95" fill="#7a4720" fill-opacity="0.18" stroke="#7a4720" stroke-width="1.5"/>
<text transform="translate(1060,72)" font-family="Liberation Sans, sans-serif" font-size="27.3" text-anchor="start" fill="#000" stroke="#000" stroke-width="0.25">Antagonistic (<tspan font-style="italic">n</tspan> = 18)</text>
<rect x="1465" y="4" width="566.8" height="468" fill="none" stroke="#000" stroke-width="1.95"/>
<line x1="1508.2" y1="472" x2="1508.2" y2="481.9" stroke="#000" stroke-width="2.0"/>
<text transform="translate(1508.2,513) scale(0.9,1)" font-family="Liberation Sans, sans-serif" font-size="33.8" text-anchor="middle" fill="#000" stroke="#000" stroke-width="0.25">0</text>
<line x1="1682.7" y1="472" x2="1682.7" y2="481.9" stroke="#000" stroke-width="2.0"/>
<text transform="translate(1682.7,513) scale(0.9,1)" font-family="Liberation Sans, sans-serif" font-size="33.8" text-anchor="middle" fill="#000" stroke="#000" stroke-width="0.25">10</text>
<line x1="1857.1" y1="472" x2="1857.1" y2="481.9" stroke="#000" stroke-width="2.0"/>
<text transform="translate(1857.1,513) scale(0.9,1)" font-family="Liberation Sans, sans-serif" font-size="33.8" text-anchor="middle" fill="#000" stroke="#000" stroke-width="0.25">20</text>
<line x1="2031.6" y1="472" x2="2031.6" y2="481.9" stroke="#000" stroke-width="2.0"/>
<text transform="translate(2031.6,513) scale(0.9,1)" font-family="Liberation Sans, sans-serif" font-size="33.8" text-anchor="middle" fill="#000" stroke="#000" stroke-width="0.25">30</text>
<line x1="1455.8" y1="77.8" x2="1465" y2="77.8" stroke="#000" stroke-width="2.0"/>
<text transform="translate(1449.3,87.39999999999999) scale(0.93,1)" font-family="Liberation Sans, sans-serif" font-size="31.9" text-anchor="end" fill="#000" stroke="#000" stroke-width="0.25">1.0</text>
<line x1="1455.8" y1="201.1" x2="1465" y2="201.1" stroke="#000" stroke-width="2.0"/>
<text transform="translate(1449.3,210.7) scale(0.93,1)" font-family="Liberation Sans, sans-serif" font-size="31.9" text-anchor="end" fill="#000" stroke="#000" stroke-width="0.25">0.5</text>
<line x1="1455.8" y1="324.4" x2="1465" y2="324.4" stroke="#000" stroke-width="2.0"/>
<text transform="translate(1449.3,334.0) scale(0.93,1)" font-family="Liberation Sans, sans-serif" font-size="31.9" text-anchor="end" fill="#000" stroke="#000" stroke-width="0.25">0.0</text>
<line x1="1455.8" y1="447.7" x2="1465" y2="447.7" stroke="#000" stroke-width="2.0"/>
<text transform="translate(1449.3,457.3) scale(0.93,1)" font-family="Liberation Sans, sans-serif" font-size="31.9" text-anchor="end" fill="#000" stroke="#000" stroke-width="0.25">−0.5</text>
<text transform="translate(1748,552.4) scale(0.99,1)" font-family="Liberation Sans, sans-serif" font-size="35.2" text-anchor="middle" fill="#000" stroke="#000" stroke-width="0.25">C:N</text>
<text transform="translate(1388,237.5) rotate(-90) scale(0.96,1)" font-family="Liberation Sans, sans-serif" font-size="35.3" text-anchor="middle" fill="#000" stroke="#000" stroke-width="0.25">Mixing effect</text>
<text transform="translate(1358,22.5)" font-family="Liberation Sans, sans-serif" font-size="40.5" text-anchor="start" fill="#000" font-weight="bold" stroke="#000" stroke-width="0.25">e</text>
<g>
<circle cx="1515.0" cy="307.0" r="10.95" fill="#d577ae" fill-opacity="0.0" stroke="#d577ae" stroke-width="1.5"/>
<circle cx="1533.8" cy="307.0" r="10.95" fill="#d577ae" fill-opacity="0.0" stroke="#d577ae" stroke-width="1.5"/>
<circle cx="1535.0" cy="312.0" r="10.95" fill="#d577ae" fill-opacity="0.0" stroke="#d577ae" stroke-width="1.5"/>
<circle cx="1548.8" cy="308.3" r="10.95" fill="#d577ae" fill-opacity="0.0" stroke="#d577ae" stroke-width="1.5"/>
<circle cx="1557.5" cy="300.8" r="10.95" fill="#d577ae" fill-opacity="0.0" stroke="#d577ae" stroke-width="1.5"/>
<circle cx="1558.1" cy="305.8" r="10.95" fill="#d577ae" fill-opacity="0.0" stroke="#d577ae" stroke-width="1.5"/>
<circle cx="1566.3" cy="318.4" r="10.95" fill="#d577ae" fill-opacity="0.0" stroke="#d577ae" stroke-width="1.5"/>
<circle cx="1575.1" cy="333.5" r="10.95" fill="#d577ae" fill-opacity="0.0" stroke="#d577ae" stroke-width="1.5"/>
<circle cx="1592.5" cy="304.5" r="10.95" fill="#d577ae" fill-opacity="0.0" stroke="#d577ae" stroke-width="1.5"/>
<circle cx="1594.4" cy="308.3" r="10.95" fill="#d577ae" fill-opacity="0.0" stroke="#d577ae" stroke-width="1.5"/>
<circle cx="1595.5" cy="310.0" r="10.95" fill="#d577ae" fill-opacity="0.0" stroke="#d577ae" stroke-width="1.5"/>
<circle cx="1618.1" cy="305.1" r="10.95" fill="#d577ae" fill-opacity="0.0" stroke="#d577ae" stroke-width="1.5"/>
<circle cx="1621.3" cy="297.0" r="10.95" fill="#d577ae" fill-opacity="0.0" stroke="#d577ae" stroke-width="1.5"/>
<circle cx="1637.5" cy="312.0" r="10.95" fill="#d577ae" fill-opacity="0.0" stroke="#d577ae" stroke-width="1.5"/>
<circle cx="1639.5" cy="320.6" r="10.95" fill="#d577ae" fill-opacity="0.0" stroke="#d577ae" stroke-width="1.5"/>
<circle cx="1635.5" cy="327.9" r="10.95" fill="#d577ae" fill-opacity="0.0" stroke="#d577ae" stroke-width="1.5"/>
<circle cx="1645.0" cy="303.3" r="10.95" fill="#d577ae" fill-opacity="0.0" stroke="#d577ae" stroke-width="1.5"/>
<circle cx="1652.6" cy="332.5" r="10.95" fill="#d577ae" fill-opacity="0.0" stroke="#d577ae" stroke-width="1.5"/>
<circle cx="1653.5" cy="339.1" r="10.95" fill="#d577ae" fill-opacity="0.0" stroke="#d577ae" stroke-width="1.5"/>
<circle cx="1699.3" cy="307.2" r="10.95" fill="#d577ae" fill-opacity="0.0" stroke="#d577ae" stroke-width="1.5"/>
<circle cx="1699.3" cy="317.2" r="10.95" fill="#d577ae" fill-opacity="0.0" stroke="#d577ae" stroke-width="1.5"/>
<circle cx="1720.4" cy="299.5" r="10.95" fill="#d577ae" fill-opacity="0.0" stroke="#d577ae" stroke-width="1.5"/>
<circle cx="1720.4" cy="305.5" r="10.95" fill="#d577ae" fill-opacity="0.0" stroke="#d577ae" stroke-width="1.5"/>
<circle cx="1733.8" cy="293.3" r="10.95" fill="#d577ae" fill-opacity="0.0" stroke="#d577ae" stroke-width="1.5"/>
<circle cx="1749.4" cy="286.4" r="10.95" fill="#d577ae" fill-opacity="0.0" stroke="#d577ae" stroke-width="1.5"/>
<circle cx="1749.4" cy="315.4" r="10.95" fill="#d577ae" fill-opacity="0.0" stroke="#d577ae" stroke-width="1.5"/>
<circle cx="1762.5" cy="350.4" r="10.95" fill="#d577ae" fill-opacity="0.0" stroke="#d577ae" stroke-width="1.5"/>
<circle cx="1777.5" cy="342.9" r="10.95" fill="#d577ae" fill-opacity="0.0" stroke="#d577ae" stroke-width="1.5"/>
<circle cx="1807.5" cy="345.8" r="10.95" fill="#d577ae" fill-opacity="0.0" stroke="#d577ae" stroke-width="1.5"/>
<circle cx="1695.5" cy="347.3" r="10.95" fill="#d577ae" fill-opacity="0.0" stroke="#d577ae" stroke-width="1.5"/>
<circle cx="1535.0" cy="354.0" r="10.95" fill="#d577ae" fill-opacity="0.0" stroke="#d577ae" stroke-width="1.5"/>
<circle cx="1536.5" cy="352.0" r="10.95" fill="#d577ae" fill-opacity="0.0" stroke="#d577ae" stroke-width="1.5"/>
<circle cx="1527.0" cy="303.0" r="10.95" fill="#d577ae" fill-opacity="0.0" stroke="#d577ae" stroke-width="1.5"/>
<circle cx="1541.0" cy="304.0" r="10.95" fill="#d577ae" fill-opacity="0.0" stroke="#d577ae" stroke-width="1.5"/>
<circle cx="1618.5" cy="297.8" r="10.95" fill="#d577ae" fill-opacity="0.0" stroke="#d577ae" stroke-width="1.5"/>
<circle cx="1604.0" cy="304.0" r="10.95" fill="#d577ae" fill-opacity="0.0" stroke="#d577ae" stroke-width="1.5"/>
<circle cx="1580.0" cy="303.0" r="10.95" fill="#d577ae" fill-opacity="0.0" stroke="#d577ae" stroke-width="1.5"/>
<circle cx="1628.0" cy="300.0" r="10.95" fill="#d577ae" fill-opacity="0.0" stroke="#d577ae" stroke-width="1.5"/>
<circle cx="1529.0" cy="309.0" r="10.95" fill="#d577ae" fill-opacity="0.0" stroke="#d577ae" stroke-width="1.5"/>
<circle cx="1545.0" cy="306.0" r="10.95" fill="#d577ae" fill-opacity="0.0" stroke="#d577ae" stroke-width="1.5"/>
<circle cx="1553.0" cy="303.0" r="10.95" fill="#d577ae" fill-opacity="0.0" stroke="#d577ae" stroke-width="1.5"/>
<circle cx="1583.5" cy="443.6" r="10.95" fill="#d577ae" fill-opacity="0.18" stroke="#d577ae" stroke-width="1.5"/>
<circle cx="1695.1" cy="447.0" r="10.95" fill="#d577ae" fill-opacity="0.18" stroke="#d577ae" stroke-width="1.5"/>
<circle cx="1667.1" cy="425.6" r="10.95" fill="#d577ae" fill-opacity="0.18" stroke="#d577ae" stroke-width="1.5"/>
<circle cx="1711.7" cy="415.3" r="10.95" fill="#d577ae" fill-opacity="0.18" stroke="#d577ae" stroke-width="1.5"/>
<circle cx="1611.2" cy="419.1" r="10.95" fill="#d577ae" fill-opacity="0.18" stroke="#d577ae" stroke-width="1.5"/>
<circle cx="1525.0" cy="398.2" r="10.95" fill="#d577ae" fill-opacity="0.18" stroke="#d577ae" stroke-width="1.5"/>
<circle cx="1566.3" cy="389.2" r="10.95" fill="#d577ae" fill-opacity="0.18" stroke="#d577ae" stroke-width="1.5"/>
<circle cx="1536.0" cy="385.8" r="10.95" fill="#d577ae" fill-opacity="0.18" stroke="#d577ae" stroke-width="1.5"/>
<circle cx="1620.0" cy="391.3" r="10.95" fill="#d577ae" fill-opacity="0.18" stroke="#d577ae" stroke-width="1.5"/>
<circle cx="1518.2" cy="372.0" r="10.95" fill="#d577ae" fill-opacity="0.18" stroke="#d577ae" stroke-width="1.5"/>
<circle cx="1532.3" cy="367.0" r="10.95" fill="#d577ae" fill-opacity="0.18" stroke="#d577ae" stroke-width="1.5"/>
<circle cx="1526.0" cy="363.3" r="10.95" fill="#d577ae" fill-opacity="0.18" stroke="#d577ae" stroke-width="1.5"/>
<circle cx="1586.2" cy="357.4" r="10.95" fill="#d577ae" fill-opacity="0.18" stroke="#d577ae" stroke-width="1.5"/>
<circle cx="1611.4" cy="367.5" r="10.95" fill="#d577ae" fill-opacity="0.18" stroke="#d577ae" stroke-width="1.5"/>
<circle cx="1630.3" cy="375.5" r="10.95" fill="#d577ae" fill-opacity="0.18" stroke="#d577ae" stroke-width="1.5"/>
<circle cx="1651.9" cy="362.5" r="10.95" fill="#d577ae" fill-opacity="0.18" stroke="#d577ae" stroke-width="1.5"/>
<circle cx="1674.1" cy="351.8" r="10.95" fill="#d577ae" fill-opacity="0.18" stroke="#d577ae" stroke-width="1.5"/>
<circle cx="1534.0" cy="356.0" r="10.95" fill="#d577ae" fill-opacity="0.18" stroke="#d577ae" stroke-width="1.5"/>
<circle cx="1717.8" cy="156.9" r="10.95" fill="#d577ae" fill-opacity="0.6" stroke="#d577ae" stroke-width="1.5"/>
<circle cx="1740.2" cy="159.4" r="10.95" fill="#d577ae" fill-opacity="0.6" stroke="#d577ae" stroke-width="1.5"/>
<circle cx="1541.5" cy="182.5" r="10.95" fill="#d577ae" fill-opacity="0.6" stroke="#d577ae" stroke-width="1.5"/>
<circle cx="1535.6" cy="191.0" r="10.95" fill="#d577ae" fill-opacity="0.6" stroke="#d577ae" stroke-width="1.5"/>
<circle cx="1591.5" cy="187.1" r="10.95" fill="#d577ae" fill-opacity="0.6" stroke="#d577ae" stroke-width="1.5"/>
<circle cx="1634.4" cy="176.9" r="10.95" fill="#d577ae" fill-opacity="0.6" stroke="#d577ae" stroke-width="1.5"/>
<circle cx="1656.3" cy="183.1" r="10.95" fill="#d577ae" fill-opacity="0.6" stroke="#d577ae" stroke-width="1.5"/>
<circle cx="1669.8" cy="198.4" r="10.95" fill="#d577ae" fill-opacity="0.6" stroke="#d577ae" stroke-width="1.5"/>
<circle cx="1659.4" cy="206.3" r="10.95" fill="#d577ae" fill-opacity="0.6" stroke="#d577ae" stroke-width="1.5"/>
<circle cx="1710.6" cy="191.3" r="10.95" fill="#d577ae" fill-opacity="0.6" stroke="#d577ae" stroke-width="1.5"/>
<circle cx="1744.3" cy="197.1" r="10.95" fill="#d577ae" fill-opacity="0.6" stroke="#d577ae" stroke-width="1.5"/>
<circle cx="1717.8" cy="211.0" r="10.95" fill="#d577ae" fill-opacity="0.6" stroke="#d577ae" stroke-width="1.5"/>
<circle cx="1516.5" cy="208.8" r="10.95" fill="#d577ae" fill-opacity="0.6" stroke="#d577ae" stroke-width="1.5"/>
<circle cx="1555.0" cy="203.8" r="10.95" fill="#d577ae" fill-opacity="0.6" stroke="#d577ae" stroke-width="1.5"/>
<circle cx="1555.6" cy="208.8" r="10.95" fill="#d577ae" fill-opacity="0.6" stroke="#d577ae" stroke-width="1.5"/>
<circle cx="1537.5" cy="217.3" r="10.95" fill="#d577ae" fill-opacity="0.6" stroke="#d577ae" stroke-width="1.5"/>
<circle cx="1615.4" cy="205.6" r="10.95" fill="#d577ae" fill-opacity="0.6" stroke="#d577ae" stroke-width="1.5"/>
<circle cx="1610.0" cy="215.6" r="10.95" fill="#d577ae" fill-opacity="0.6" stroke="#d577ae" stroke-width="1.5"/>
<circle cx="1633.5" cy="215.6" r="10.95" fill="#d577ae" fill-opacity="0.6" stroke="#d577ae" stroke-width="1.5"/>
<circle cx="1566.3" cy="221.3" r="10.95" fill="#d577ae" fill-opacity="0.6" stroke="#d577ae" stroke-width="1.5"/>
<circle cx="1571.9" cy="231.3" r="10.95" fill="#d577ae" fill-opacity="0.6" stroke="#d577ae" stroke-width="1.5"/>
<circle cx="1548.8" cy="227.5" r="10.95" fill="#d577ae" fill-opacity="0.6" stroke="#d577ae" stroke-width="1.5"/>
<circle cx="1546.3" cy="231.9" r="10.95" fill="#d577ae" fill-opacity="0.6" stroke="#d577ae" stroke-width="1.5"/>
<circle cx="1683.8" cy="228.1" r="10.95" fill="#d577ae" fill-opacity="0.6" stroke="#d577ae" stroke-width="1.5"/>
<circle cx="1726.9" cy="227.5" r="10.95" fill="#d577ae" fill-opacity="0.6" stroke="#d577ae" stroke-width="1.5"/>
<circle cx="1741.3" cy="225.0" r="10.95" fill="#d577ae" fill-opacity="0.6" stroke="#d577ae" stroke-width="1.5"/>
<circle cx="1508.5" cy="243.8" r="10.95" fill="#d577ae" fill-opacity="0.6" stroke="#d577ae" stroke-width="1.5"/>
<circle cx="1570.0" cy="245.0" r="10.95" fill="#d577ae" fill-opacity="0.6" stroke="#d577ae" stroke-width="1.5"/>
<circle cx="1556.3" cy="247.5" r="10.95" fill="#d577ae" fill-opacity="0.6" stroke="#d577ae" stroke-width="1.5"/>
<circle cx="1542.5" cy="251.3" r="10.95" fill="#d577ae" fill-opacity="0.6" stroke="#d577ae" stroke-width="1.5"/>
<circle cx="1642.5" cy="240.0" r="10.95" fill="#d577ae" fill-opacity="0.6" stroke="#d577ae" stroke-width="1.5"/>
<circle cx="1671.9" cy="243.1" r="10.95" fill="#d577ae" fill-opacity="0.6" stroke="#d577ae" stroke-width="1.5"/>
<circle cx="1681.3" cy="243.5" r="10.95" fill="#d577ae" fill-opacity="0.6" stroke="#d577ae" stroke-width="1.5"/>
<circle cx="1706.9" cy="245.6" r="10.95" fill="#d577ae" fill-opacity="0.6" stroke="#d577ae" stroke-width="1.5"/>
<circle cx="1641.3" cy="252.5" r="10.95" fill="#d577ae" fill-opacity="0.6" stroke="#d577ae" stroke-width="1.5"/>
<circle cx="1645.0" cy="254.4" r="10.95" fill="#d577ae" fill-opacity="0.6" stroke="#d577ae" stroke-width="1.5"/>
<circle cx="1702.5" cy="258.1" r="10.95" fill="#d577ae" fill-opacity="0.6" stroke="#d577ae" stroke-width="1.5"/>
<circle cx="1740.0" cy="256.9" r="10.95" fill="#d577ae" fill-opacity="0.6" stroke="#d577ae" stroke-width="1.5"/>
<circle cx="1665.6" cy="263.1" r="10.95" fill="#d577ae" fill-opacity="0.6" stroke="#d577ae" stroke-width="1.5"/>
<circle cx="1615.0" cy="260.6" r="10.95" fill="#d577ae" fill-opacity="0.6" stroke="#d577ae" stroke-width="1.5"/>
<circle cx="1595.0" cy="267.8" r="10.95" fill="#d577ae" fill-opacity="0.6" stroke="#d577ae" stroke-width="1.5"/>
<circle cx="1691.3" cy="267.5" r="10.95" fill="#d577ae" fill-opacity="0.6" stroke="#d577ae" stroke-width="1.5"/>
<circle cx="1698.1" cy="270.0" r="10.95" fill="#d577ae" fill-opacity="0.6" stroke="#d577ae" stroke-width="1.5"/>
<circle cx="1731.9" cy="268.2" r="10.95" fill="#d577ae" fill-opacity="0.6" stroke="#d577ae" stroke-width="1.5"/>
<circle cx="1526.3" cy="257.0" r="10.95" fill="#d577ae" fill-opacity="0.6" stroke="#d577ae" stroke-width="1.5"/>
<circle cx="1527.5" cy="259.0" r="10.95" fill="#d577ae" fill-opacity="0.6" stroke="#d577ae" stroke-width="1.5"/>
<circle cx="1528.5" cy="258.0" r="10.95" fill="#d577ae" fill-opacity="0.6" stroke="#d577ae" stroke-width="1.5"/>
<circle cx="1525.5" cy="260.5" r="10.95" fill="#d577ae" fill-opacity="0.6" stroke="#d577ae" stroke-width="1.5"/>
<circle cx="1529.0" cy="256.0" r="10.95" fill="#d577ae" fill-opacity="0.6" stroke="#d577ae" stroke-width="1.5"/>
<circle cx="1550.0" cy="266.0" r="10.95" fill="#d577ae" fill-opacity="0.6" stroke="#d577ae" stroke-width="1.5"/>
<circle cx="1551.5" cy="268.0" r="10.95" fill="#d577ae" fill-opacity="0.6" stroke="#d577ae" stroke-width="1.5"/>
<circle cx="1552.5" cy="266.5" r="10.95" fill="#d577ae" fill-opacity="0.6" stroke="#d577ae" stroke-width="1.5"/>
<circle cx="1549.0" cy="269.0" r="10.95" fill="#d577ae" fill-opacity="0.6" stroke="#d577ae" stroke-width="1.5"/>
<circle cx="1563.5" cy="272.1" r="10.95" fill="#d577ae" fill-opacity="0.6" stroke="#d577ae" stroke-width="1.5"/>
<circle cx="1547.9" cy="274.0" r="10.95" fill="#d577ae" fill-opacity="0.6" stroke="#d577ae" stroke-width="1.5"/>
<circle cx="1611.6" cy="270.3" r="10.95" fill="#d577ae" fill-opacity="0.6" stroke="#d577ae" stroke-width="1.5"/>
<circle cx="1617.0" cy="269.5" r="10.95" fill="#d577ae" fill-opacity="0.6" stroke="#d577ae" stroke-width="1.5"/>
<circle cx="1606.6" cy="277.5" r="10.95" fill="#d577ae" fill-opacity="0.6" stroke="#d577ae" stroke-width="1.5"/>
<circle cx="1617.5" cy="283.3" r="10.95" fill="#d577ae" fill-opacity="0.6" stroke="#d577ae" stroke-width="1.5"/>
<circle cx="1640.0" cy="276.0" r="10.95" fill="#d577ae" fill-opacity="0.6" stroke="#d577ae" stroke-width="1.5"/>
<circle cx="1513.8" cy="285.9" r="10.95" fill="#d577ae" fill-opacity="0.6" stroke="#d577ae" stroke-width="1.5"/>
<circle cx="1513.5" cy="296.5" r="10.95" fill="#d577ae" fill-opacity="0.6" stroke="#d577ae" stroke-width="1.5"/>
<circle cx="1510.4" cy="299.0" r="10.95" fill="#d577ae" fill-opacity="0.6" stroke="#d577ae" stroke-width="1.5"/>
<circle cx="1515.0" cy="301.0" r="10.95" fill="#d577ae" fill-opacity="0.6" stroke="#d577ae" stroke-width="1.5"/>
<circle cx="1569.1" cy="296.5" r="10.95" fill="#d577ae" fill-opacity="0.6" stroke="#d577ae" stroke-width="1.5"/>
<circle cx="1566.0" cy="300.0" r="10.95" fill="#d577ae" fill-opacity="0.6" stroke="#d577ae" stroke-width="1.5"/>
<circle cx="1593.5" cy="293.4" r="10.95" fill="#d577ae" fill-opacity="0.6" stroke="#d577ae" stroke-width="1.5"/>
<circle cx="1592.3" cy="297.8" r="10.95" fill="#d577ae" fill-opacity="0.6" stroke="#d577ae" stroke-width="1.5"/>
<circle cx="1630.0" cy="293.3" r="10.95" fill="#d577ae" fill-opacity="0.6" stroke="#d577ae" stroke-width="1.5"/>
<circle cx="1640.0" cy="287.0" r="10.95" fill="#d577ae" fill-opacity="0.6" stroke="#d577ae" stroke-width="1.5"/>
<circle cx="1640.0" cy="293.3" r="10.95" fill="#d577ae" fill-opacity="0.6" stroke="#d577ae" stroke-width="1.5"/>
<circle cx="1646.3" cy="294.5" r="10.95" fill="#d577ae" fill-opacity="0.6" stroke="#d577ae" stroke-width="1.5"/>
<circle cx="1658.8" cy="293.3" r="10.95" fill="#d577ae" fill-opacity="0.6" stroke="#d577ae" stroke-width="1.5"/>
<circle cx="1667.5" cy="289.5" r="10.95" fill="#d577ae" fill-opacity="0.6" stroke="#d577ae" stroke-width="1.5"/>
<circle cx="1718.1" cy="288.9" r="10.95" fill="#d577ae" fill-opacity="0.6" stroke="#d577ae" stroke-width="1.5"/>
<circle cx="1766.0" cy="185.3" r="10.95" fill="#d577ae" fill-opacity="0.6" stroke="#d577ae" stroke-width="1.5"/>
<circle cx="1777.5" cy="186.5" r="10.95" fill="#d577ae" fill-opacity="0.6" stroke="#d577ae" stroke-width="1.5"/>
<circle cx="1833.4" cy="220.3" r="10.95" fill="#d577ae" fill-opacity="0.6" stroke="#d577ae" stroke-width="1.5"/>
<circle cx="1860.4" cy="217.3" r="10.95" fill="#d577ae" fill-opacity="0.6" stroke="#d577ae" stroke-width="1.5"/>
<circle cx="1953.3" cy="207.5" r="10.95" fill="#d577ae" fill-opacity="0.6" stroke="#d577ae" stroke-width="1.5"/>
<circle cx="1764.8" cy="283.5" r="10.95" fill="#d577ae" fill-opacity="0.6" stroke="#d577ae" stroke-width="1.5"/>
<line x1="1504.7" y1="256.2" x2="1957.5" y2="209.6" stroke="#d577ae" stroke-width="3.1"/>
</g>
<line x1="1471" y1="32.5" x2="1507" y2="32.5" stroke="#d577ae" stroke-width="3.1"/>
<circle cx="1489.0" cy="32.5" r="10.95" fill="#d577ae" fill-opacity="0.6" stroke="#d577ae" stroke-width="1.5"/>
<text transform="translate(1515,43)" font-family="Liberation Sans, sans-serif" font-size="27.3" text-anchor="start" fill="#000" stroke="#000" stroke-width="0.25">Synergistic <tspan dx="1">(</tspan><tspan font-style="italic" dx="1.2">R</tspan><tspan dx="-1.6" dy="-12.0" font-size="17.2">2</tspan><tspan dx="-0.4" dy="12.0" font-size="27.3"> </tspan>= 0.06, <tspan font-style="italic">P</tspan> = 0.028, <tspan font-style="italic">n</tspan> = 79)</text>
<circle cx="1489.0" cy="65.7" r="10.95" fill="#d577ae" fill-opacity="0.0" stroke="#d577ae" stroke-width="1.5"/>
<text transform="translate(1515,76)" font-family="Liberation Sans, sans-serif" font-size="27.3" text-anchor="start" fill="#000" stroke="#000" stroke-width="0.25">Additive (<tspan font-style="italic">n</tspan> = 41)</text>
<circle cx="1746.5" cy="65.7" r="10.95" fill="#d577ae" fill-opacity="0.18" stroke="#d577ae" stroke-width="1.5"/>
<text transform="translate(1773,76)" font-family="Liberation Sans, sans-serif" font-size="27.3" text-anchor="start" fill="#000" stroke="#000" stroke-width="0.25">Antagonistic (<tspan font-style="italic">n</tspan> = 18)</text>
<rect x="752.3" y="580.9" width="566.7" height="468.4" fill="none" stroke="#000" stroke-width="1.95"/>
<line x1="790.1" y1="1049.3" x2="790.1" y2="1059.2" stroke="#000" stroke-width="2.0"/>
<text transform="translate(790.1,1090.3) scale(0.93,1)" font-family="Liberation Sans, sans-serif" font-size="33.4" text-anchor="middle" fill="#000" stroke="#000" stroke-width="0.25">0</text>
<line x1="903.4" y1="1049.3" x2="903.4" y2="1059.2" stroke="#000" stroke-width="2.0"/>
<text transform="translate(903.4,1090.3) scale(0.93,1)" font-family="Liberation Sans, sans-serif" font-size="33.4" text-anchor="middle" fill="#000" stroke="#000" stroke-width="0.25">15</text>
<line x1="1016.6" y1="1049.3" x2="1016.6" y2="1059.2" stroke="#000" stroke-width="2.0"/>
<text transform="translate(1016.6,1090.3) scale(0.93,1)" font-family="Liberation Sans, sans-serif" font-size="33.4" text-anchor="middle" fill="#000" stroke="#000" stroke-width="0.25">30</text>
<line x1="1129.8" y1="1049.3" x2="1129.8" y2="1059.2" stroke="#000" stroke-width="2.0"/>
<text transform="translate(1129.8,1090.3) scale(0.93,1)" font-family="Liberation Sans, sans-serif" font-size="33.4" text-anchor="middle" fill="#000" stroke="#000" stroke-width="0.25">45</text>
<line x1="1243" y1="1049.3" x2="1243" y2="1059.2" stroke="#000" stroke-width="2.0"/>
<text transform="translate(1243,1090.3) scale(0.93,1)" font-family="Liberation Sans, sans-serif" font-size="33.4" text-anchor="middle" fill="#000" stroke="#000" stroke-width="0.25">60</text>
<line x1="743.0999999999999" y1="654.7" x2="752.3" y2="654.7" stroke="#000" stroke-width="2.0"/>
<text transform="translate(736.2,664.3000000000001) scale(0.93,1)" font-family="Liberation Sans, sans-serif" font-size="31.9" text-anchor="end" fill="#000" stroke="#000" stroke-width="0.25">1.0</text>
<line x1="743.0999999999999" y1="777.9000000000001" x2="752.3" y2="777.9000000000001" stroke="#000" stroke-width="2.0"/>
<text transform="translate(736.2,787.5000000000001) scale(0.93,1)" font-family="Liberation Sans, sans-serif" font-size="31.9" text-anchor="end" fill="#000" stroke="#000" stroke-width="0.25">0.5</text>
<line x1="743.0999999999999" y1="901.1" x2="752.3" y2="901.1" stroke="#000" stroke-width="2.0"/>
<text transform="translate(736.2,910.7) scale(0.93,1)" font-family="Liberation Sans, sans-serif" font-size="31.9" text-anchor="end" fill="#000" stroke="#000" stroke-width="0.25">0.0</text>
<line x1="743.0999999999999" y1="1024.3000000000002" x2="752.3" y2="1024.3000000000002" stroke="#000" stroke-width="2.0"/>
<text transform="translate(736.2,1033.9) scale(0.93,1)" font-family="Liberation Sans, sans-serif" font-size="31.9" text-anchor="end" fill="#000" stroke="#000" stroke-width="0.25">−0.5</text>
<text transform="translate(1035.6,1130) scale(0.9725,1)" font-family="Liberation Sans, sans-serif" font-size="35.2" text-anchor="middle" fill="#000" stroke="#000" stroke-width="0.25">CTs (mg g<tspan dy="-14.4" font-size="25.0">-1</tspan><tspan dy="14.4" font-size="35.2">&#8203;</tspan>)</text>
<text transform="translate(673,814) rotate(-90) scale(0.96,1)" font-family="Liberation Sans, sans-serif" font-size="35.3" text-anchor="middle" fill="#000" stroke="#000" stroke-width="0.25">Mixing effect</text>
<text transform="translate(644,610.8)" font-family="Liberation Sans, sans-serif" font-size="39.3" text-anchor="start" fill="#000" font-weight="bold" stroke="#000" stroke-width="0.25">d</text>
<g>
<circle cx="792.5" cy="882.0" r="10.95" fill="#2f5baa" fill-opacity="0.0" stroke="#2f5baa" stroke-width="1.5"/>
<circle cx="800.0" cy="884.5" r="10.95" fill="#2f5baa" fill-opacity="0.0" stroke="#2f5baa" stroke-width="1.5"/>
<circle cx="806.3" cy="885.8" r="10.95" fill="#2f5baa" fill-opacity="0.0" stroke="#2f5baa" stroke-width="1.5"/>
<circle cx="812.5" cy="887.0" r="10.95" fill="#2f5baa" fill-opacity="0.0" stroke="#2f5baa" stroke-width="1.5"/>
<circle cx="814.0" cy="889.5" r="10.95" fill="#2f5baa" fill-opacity="0.0" stroke="#2f5baa" stroke-width="1.5"/>
<circle cx="826.3" cy="884.5" r="10.95" fill="#2f5baa" fill-opacity="0.0" stroke="#2f5baa" stroke-width="1.5"/>
<circle cx="840.0" cy="882.0" r="10.95" fill="#2f5baa" fill-opacity="0.0" stroke="#2f5baa" stroke-width="1.5"/>
<circle cx="803.8" cy="867.0" r="10.95" fill="#2f5baa" fill-opacity="0.0" stroke="#2f5baa" stroke-width="1.5"/>
<circle cx="862.5" cy="885.8" r="10.95" fill="#2f5baa" fill-opacity="0.0" stroke="#2f5baa" stroke-width="1.5"/>
<circle cx="861.3" cy="892.0" r="10.95" fill="#2f5baa" fill-opacity="0.0" stroke="#2f5baa" stroke-width="1.5"/>
<circle cx="860.0" cy="895.8" r="10.95" fill="#2f5baa" fill-opacity="0.0" stroke="#2f5baa" stroke-width="1.5"/>
<circle cx="857.5" cy="898.3" r="10.95" fill="#2f5baa" fill-opacity="0.0" stroke="#2f5baa" stroke-width="1.5"/>
<circle cx="855.0" cy="899.5" r="10.95" fill="#2f5baa" fill-opacity="0.0" stroke="#2f5baa" stroke-width="1.5"/>
<circle cx="876.3" cy="885.1" r="10.95" fill="#2f5baa" fill-opacity="0.0" stroke="#2f5baa" stroke-width="1.5"/>
<circle cx="889.4" cy="886.0" r="10.95" fill="#2f5baa" fill-opacity="0.0" stroke="#2f5baa" stroke-width="1.5"/>
<circle cx="910.0" cy="882.0" r="10.95" fill="#2f5baa" fill-opacity="0.0" stroke="#2f5baa" stroke-width="1.5"/>
<circle cx="921.3" cy="874.5" r="10.95" fill="#2f5baa" fill-opacity="0.0" stroke="#2f5baa" stroke-width="1.5"/>
<circle cx="922.5" cy="883.3" r="10.95" fill="#2f5baa" fill-opacity="0.0" stroke="#2f5baa" stroke-width="1.5"/>
<circle cx="932.5" cy="877.0" r="10.95" fill="#2f5baa" fill-opacity="0.0" stroke="#2f5baa" stroke-width="1.5"/>
<circle cx="953.1" cy="863.9" r="10.95" fill="#2f5baa" fill-opacity="0.0" stroke="#2f5baa" stroke-width="1.5"/>
<circle cx="996.9" cy="856.4" r="10.95" fill="#2f5baa" fill-opacity="0.0" stroke="#2f5baa" stroke-width="1.5"/>
<circle cx="979.4" cy="881.4" r="10.95" fill="#2f5baa" fill-opacity="0.0" stroke="#2f5baa" stroke-width="1.5"/>
<circle cx="966.3" cy="894.9" r="10.95" fill="#2f5baa" fill-opacity="0.0" stroke="#2f5baa" stroke-width="1.5"/>
<circle cx="1023.8" cy="880.8" r="10.95" fill="#2f5baa" fill-opacity="0.0" stroke="#2f5baa" stroke-width="1.5"/>
<circle cx="933.8" cy="897.6" r="10.95" fill="#2f5baa" fill-opacity="0.0" stroke="#2f5baa" stroke-width="1.5"/>
<circle cx="933.8" cy="910.1" r="10.95" fill="#2f5baa" fill-opacity="0.0" stroke="#2f5baa" stroke-width="1.5"/>
<circle cx="911.9" cy="911.4" r="10.95" fill="#2f5baa" fill-opacity="0.0" stroke="#2f5baa" stroke-width="1.5"/>
<circle cx="840.0" cy="905.1" r="10.95" fill="#2f5baa" fill-opacity="0.0" stroke="#2f5baa" stroke-width="1.5"/>
<circle cx="809.6" cy="916.4" r="10.95" fill="#2f5baa" fill-opacity="0.0" stroke="#2f5baa" stroke-width="1.5"/>
<circle cx="848.4" cy="925.1" r="10.95" fill="#2f5baa" fill-opacity="0.0" stroke="#2f5baa" stroke-width="1.5"/>
<circle cx="890.2" cy="920.2" r="10.95" fill="#2f5baa" fill-opacity="0.0" stroke="#2f5baa" stroke-width="1.5"/>
<circle cx="891.0" cy="922.8" r="10.95" fill="#2f5baa" fill-opacity="0.0" stroke="#2f5baa" stroke-width="1.5"/>
<circle cx="936.9" cy="928.3" r="10.95" fill="#2f5baa" fill-opacity="0.0" stroke="#2f5baa" stroke-width="1.5"/>
<circle cx="819.4" cy="932.6" r="10.95" fill="#2f5baa" fill-opacity="0.0" stroke="#2f5baa" stroke-width="1.5"/>
<circle cx="1054.2" cy="871.0" r="10.95" fill="#2f5baa" fill-opacity="0.0" stroke="#2f5baa" stroke-width="1.5"/>
<circle cx="1036.4" cy="876.8" r="10.95" fill="#2f5baa" fill-opacity="0.0" stroke="#2f5baa" stroke-width="1.5"/>
<circle cx="1050.8" cy="883.3" r="10.95" fill="#2f5baa" fill-opacity="0.0" stroke="#2f5baa" stroke-width="1.5"/>
<circle cx="1059.7" cy="886.0" r="10.95" fill="#2f5baa" fill-opacity="0.0" stroke="#2f5baa" stroke-width="1.5"/>
<circle cx="994.6" cy="877.0" r="10.95" fill="#2f5baa" fill-opacity="0.0" stroke="#2f5baa" stroke-width="1.5"/>
<circle cx="832.0" cy="887.0" r="10.95" fill="#2f5baa" fill-opacity="0.0" stroke="#2f5baa" stroke-width="1.5"/>
<circle cx="848.0" cy="884.0" r="10.95" fill="#2f5baa" fill-opacity="0.0" stroke="#2f5baa" stroke-width="1.5"/>
<circle cx="788.8" cy="932.5" r="10.95" fill="#2f5baa" fill-opacity="0.18" stroke="#2f5baa" stroke-width="1.5"/>
<circle cx="808.0" cy="935.0" r="10.95" fill="#2f5baa" fill-opacity="0.18" stroke="#2f5baa" stroke-width="1.5"/>
<circle cx="805.3" cy="944.8" r="10.95" fill="#2f5baa" fill-opacity="0.18" stroke="#2f5baa" stroke-width="1.5"/>
<circle cx="817.5" cy="949.4" r="10.95" fill="#2f5baa" fill-opacity="0.18" stroke="#2f5baa" stroke-width="1.5"/>
<circle cx="833.8" cy="941.0" r="10.95" fill="#2f5baa" fill-opacity="0.18" stroke="#2f5baa" stroke-width="1.5"/>
<circle cx="845.5" cy="943.0" r="10.95" fill="#2f5baa" fill-opacity="0.18" stroke="#2f5baa" stroke-width="1.5"/>
<circle cx="858.9" cy="940.0" r="10.95" fill="#2f5baa" fill-opacity="0.18" stroke="#2f5baa" stroke-width="1.5"/>
<circle cx="823.8" cy="962.6" r="10.95" fill="#2f5baa" fill-opacity="0.18" stroke="#2f5baa" stroke-width="1.5"/>
<circle cx="835.7" cy="966.0" r="10.95" fill="#2f5baa" fill-opacity="0.18" stroke="#2f5baa" stroke-width="1.5"/>
<circle cx="867.2" cy="968.2" r="10.95" fill="#2f5baa" fill-opacity="0.18" stroke="#2f5baa" stroke-width="1.5"/>
<circle cx="852.0" cy="975.6" r="10.95" fill="#2f5baa" fill-opacity="0.18" stroke="#2f5baa" stroke-width="1.5"/>
<circle cx="894.3" cy="952.8" r="10.95" fill="#2f5baa" fill-opacity="0.18" stroke="#2f5baa" stroke-width="1.5"/>
<circle cx="924.5" cy="929.2" r="10.95" fill="#2f5baa" fill-opacity="0.18" stroke="#2f5baa" stroke-width="1.5"/>
<circle cx="903.3" cy="992.3" r="10.95" fill="#2f5baa" fill-opacity="0.18" stroke="#2f5baa" stroke-width="1.5"/>
<circle cx="814.0" cy="996.3" r="10.95" fill="#2f5baa" fill-opacity="0.18" stroke="#2f5baa" stroke-width="1.5"/>
<circle cx="846.5" cy="1003.0" r="10.95" fill="#2f5baa" fill-opacity="0.18" stroke="#2f5baa" stroke-width="1.5"/>
<circle cx="887.0" cy="1025.0" r="10.95" fill="#2f5baa" fill-opacity="0.18" stroke="#2f5baa" stroke-width="1.5"/>
<circle cx="932.0" cy="1020.5" r="10.95" fill="#2f5baa" fill-opacity="0.18" stroke="#2f5baa" stroke-width="1.5"/>
<circle cx="978.4" cy="734.1" r="10.95" fill="#2f5baa" fill-opacity="0.6" stroke="#2f5baa" stroke-width="1.5"/>
<circle cx="798.5" cy="760.3" r="10.95" fill="#2f5baa" fill-opacity="0.6" stroke="#2f5baa" stroke-width="1.5"/>
<circle cx="851.5" cy="768.0" r="10.95" fill="#2f5baa" fill-opacity="0.6" stroke="#2f5baa" stroke-width="1.5"/>
<circle cx="852.5" cy="769.0" r="10.95" fill="#2f5baa" fill-opacity="0.6" stroke="#2f5baa" stroke-width="1.5"/>
<circle cx="906.0" cy="763.4" r="10.95" fill="#2f5baa" fill-opacity="0.6" stroke="#2f5baa" stroke-width="1.5"/>
<circle cx="928.8" cy="762.5" r="10.95" fill="#2f5baa" fill-opacity="0.6" stroke="#2f5baa" stroke-width="1.5"/>
<circle cx="1005.6" cy="764.4" r="10.95" fill="#2f5baa" fill-opacity="0.6" stroke="#2f5baa" stroke-width="1.5"/>
<circle cx="978.2" cy="774.4" r="10.95" fill="#2f5baa" fill-opacity="0.6" stroke="#2f5baa" stroke-width="1.5"/>
<circle cx="979.8" cy="775.6" r="10.95" fill="#2f5baa" fill-opacity="0.6" stroke="#2f5baa" stroke-width="1.5"/>
<circle cx="1016.0" cy="786.3" r="10.95" fill="#2f5baa" fill-opacity="0.6" stroke="#2f5baa" stroke-width="1.5"/>
<circle cx="817.3" cy="782.1" r="10.95" fill="#2f5baa" fill-opacity="0.6" stroke="#2f5baa" stroke-width="1.5"/>
<circle cx="838.1" cy="781.3" r="10.95" fill="#2f5baa" fill-opacity="0.6" stroke="#2f5baa" stroke-width="1.5"/>
<circle cx="843.8" cy="783.1" r="10.95" fill="#2f5baa" fill-opacity="0.6" stroke="#2f5baa" stroke-width="1.5"/>
<circle cx="905.0" cy="783.1" r="10.95" fill="#2f5baa" fill-opacity="0.6" stroke="#2f5baa" stroke-width="1.5"/>
<circle cx="890.6" cy="788.1" r="10.95" fill="#2f5baa" fill-opacity="0.6" stroke="#2f5baa" stroke-width="1.5"/>
<circle cx="893.8" cy="790.0" r="10.95" fill="#2f5baa" fill-opacity="0.6" stroke="#2f5baa" stroke-width="1.5"/>
<circle cx="866.3" cy="793.1" r="10.95" fill="#2f5baa" fill-opacity="0.6" stroke="#2f5baa" stroke-width="1.5"/>
<circle cx="867.5" cy="795.0" r="10.95" fill="#2f5baa" fill-opacity="0.6" stroke="#2f5baa" stroke-width="1.5"/>
<circle cx="802.3" cy="793.1" r="10.95" fill="#2f5baa" fill-opacity="0.6" stroke="#2f5baa" stroke-width="1.5"/>
<circle cx="820.0" cy="802.5" r="10.95" fill="#2f5baa" fill-opacity="0.6" stroke="#2f5baa" stroke-width="1.5"/>
<circle cx="806.3" cy="805.6" r="10.95" fill="#2f5baa" fill-opacity="0.6" stroke="#2f5baa" stroke-width="1.5"/>
<circle cx="848.1" cy="803.1" r="10.95" fill="#2f5baa" fill-opacity="0.6" stroke="#2f5baa" stroke-width="1.5"/>
<circle cx="870.0" cy="808.1" r="10.95" fill="#2f5baa" fill-opacity="0.6" stroke="#2f5baa" stroke-width="1.5"/>
<circle cx="893.8" cy="798.1" r="10.95" fill="#2f5baa" fill-opacity="0.6" stroke="#2f5baa" stroke-width="1.5"/>
<circle cx="890.0" cy="808.1" r="10.95" fill="#2f5baa" fill-opacity="0.6" stroke="#2f5baa" stroke-width="1.5"/>
<circle cx="922.5" cy="798.5" r="10.95" fill="#2f5baa" fill-opacity="0.6" stroke="#2f5baa" stroke-width="1.5"/>
<circle cx="997.5" cy="821.6" r="10.95" fill="#2f5baa" fill-opacity="0.6" stroke="#2f5baa" stroke-width="1.5"/>
<circle cx="928.1" cy="822.5" r="10.95" fill="#2f5baa" fill-opacity="0.6" stroke="#2f5baa" stroke-width="1.5"/>
<circle cx="921.3" cy="831.9" r="10.95" fill="#2f5baa" fill-opacity="0.6" stroke="#2f5baa" stroke-width="1.5"/>
<circle cx="938.8" cy="829.4" r="10.95" fill="#2f5baa" fill-opacity="0.6" stroke="#2f5baa" stroke-width="1.5"/>
<circle cx="860.6" cy="822.5" r="10.95" fill="#2f5baa" fill-opacity="0.6" stroke="#2f5baa" stroke-width="1.5"/>
<circle cx="890.0" cy="830.0" r="10.95" fill="#2f5baa" fill-opacity="0.6" stroke="#2f5baa" stroke-width="1.5"/>
<circle cx="827.5" cy="822.5" r="10.95" fill="#2f5baa" fill-opacity="0.6" stroke="#2f5baa" stroke-width="1.5"/>
<circle cx="837.5" cy="818.8" r="10.95" fill="#2f5baa" fill-opacity="0.6" stroke="#2f5baa" stroke-width="1.5"/>
<circle cx="835.0" cy="826.3" r="10.95" fill="#2f5baa" fill-opacity="0.6" stroke="#2f5baa" stroke-width="1.5"/>
<circle cx="838.5" cy="835.6" r="10.95" fill="#2f5baa" fill-opacity="0.6" stroke="#2f5baa" stroke-width="1.5"/>
<circle cx="841.6" cy="836.9" r="10.95" fill="#2f5baa" fill-opacity="0.6" stroke="#2f5baa" stroke-width="1.5"/>
<circle cx="795.0" cy="831.3" r="10.95" fill="#2f5baa" fill-opacity="0.6" stroke="#2f5baa" stroke-width="1.5"/>
<circle cx="805.0" cy="837.5" r="10.95" fill="#2f5baa" fill-opacity="0.6" stroke="#2f5baa" stroke-width="1.5"/>
<circle cx="804.0" cy="839.0" r="10.95" fill="#2f5baa" fill-opacity="0.6" stroke="#2f5baa" stroke-width="1.5"/>
<circle cx="806.0" cy="838.0" r="10.95" fill="#2f5baa" fill-opacity="0.6" stroke="#2f5baa" stroke-width="1.5"/>
<circle cx="909.4" cy="846.9" r="10.95" fill="#2f5baa" fill-opacity="0.6" stroke="#2f5baa" stroke-width="1.5"/>
<circle cx="934.4" cy="851.0" r="10.95" fill="#2f5baa" fill-opacity="0.6" stroke="#2f5baa" stroke-width="1.5"/>
<circle cx="824.4" cy="853.8" r="10.95" fill="#2f5baa" fill-opacity="0.6" stroke="#2f5baa" stroke-width="1.5"/>
<circle cx="869.8" cy="843.1" r="10.95" fill="#2f5baa" fill-opacity="0.6" stroke="#2f5baa" stroke-width="1.5"/>
<circle cx="862.3" cy="845.0" r="10.95" fill="#2f5baa" fill-opacity="0.6" stroke="#2f5baa" stroke-width="1.5"/>
<circle cx="873.5" cy="841.9" r="10.95" fill="#2f5baa" fill-opacity="0.6" stroke="#2f5baa" stroke-width="1.5"/>
<circle cx="881.0" cy="838.8" r="10.95" fill="#2f5baa" fill-opacity="0.6" stroke="#2f5baa" stroke-width="1.5"/>
<circle cx="887.3" cy="846.3" r="10.95" fill="#2f5baa" fill-opacity="0.6" stroke="#2f5baa" stroke-width="1.5"/>
<circle cx="1023.8" cy="845.0" r="10.95" fill="#2f5baa" fill-opacity="0.6" stroke="#2f5baa" stroke-width="1.5"/>
<circle cx="1026.5" cy="846.5" r="10.95" fill="#2f5baa" fill-opacity="0.6" stroke="#2f5baa" stroke-width="1.5"/>
<circle cx="1010.0" cy="854.2" r="10.95" fill="#2f5baa" fill-opacity="0.6" stroke="#2f5baa" stroke-width="1.5"/>
<circle cx="1052.6" cy="845.5" r="10.95" fill="#2f5baa" fill-opacity="0.6" stroke="#2f5baa" stroke-width="1.5"/>
<circle cx="1267.0" cy="850.0" r="10.95" fill="#2f5baa" fill-opacity="0.6" stroke="#2f5baa" stroke-width="1.5"/>
<circle cx="1130.4" cy="736.9" r="10.95" fill="#2f5baa" fill-opacity="0.6" stroke="#2f5baa" stroke-width="1.5"/>
<circle cx="1253.4" cy="754.4" r="10.95" fill="#2f5baa" fill-opacity="0.6" stroke="#2f5baa" stroke-width="1.5"/>
<circle cx="1050.4" cy="760.6" r="10.95" fill="#2f5baa" fill-opacity="0.6" stroke="#2f5baa" stroke-width="1.5"/>
<circle cx="1082.8" cy="784.8" r="10.95" fill="#2f5baa" fill-opacity="0.6" stroke="#2f5baa" stroke-width="1.5"/>
<circle cx="1036.6" cy="805.0" r="10.95" fill="#2f5baa" fill-opacity="0.6" stroke="#2f5baa" stroke-width="1.5"/>
<circle cx="1181.0" cy="794.8" r="10.95" fill="#2f5baa" fill-opacity="0.6" stroke="#2f5baa" stroke-width="1.5"/>
<circle cx="790.0" cy="870.8" r="10.95" fill="#2f5baa" fill-opacity="0.6" stroke="#2f5baa" stroke-width="1.5"/>
<circle cx="789.0" cy="872.5" r="10.95" fill="#2f5baa" fill-opacity="0.6" stroke="#2f5baa" stroke-width="1.5"/>
<circle cx="817.5" cy="865.8" r="10.95" fill="#2f5baa" fill-opacity="0.6" stroke="#2f5baa" stroke-width="1.5"/>
<circle cx="819.8" cy="865.0" r="10.95" fill="#2f5baa" fill-opacity="0.6" stroke="#2f5baa" stroke-width="1.5"/>
<circle cx="816.0" cy="863.5" r="10.95" fill="#2f5baa" fill-opacity="0.6" stroke="#2f5baa" stroke-width="1.5"/>
<circle cx="821.0" cy="867.5" r="10.95" fill="#2f5baa" fill-opacity="0.6" stroke="#2f5baa" stroke-width="1.5"/>
<circle cx="835.0" cy="868.3" r="10.95" fill="#2f5baa" fill-opacity="0.6" stroke="#2f5baa" stroke-width="1.5"/>
<circle cx="837.5" cy="874.5" r="10.95" fill="#2f5baa" fill-opacity="0.6" stroke="#2f5baa" stroke-width="1.5"/>
<circle cx="845.0" cy="872.0" r="10.95" fill="#2f5baa" fill-opacity="0.6" stroke="#2f5baa" stroke-width="1.5"/>
<circle cx="855.0" cy="869.5" r="10.95" fill="#2f5baa" fill-opacity="0.6" stroke="#2f5baa" stroke-width="1.5"/>
<circle cx="865.0" cy="864.5" r="10.95" fill="#2f5baa" fill-opacity="0.6" stroke="#2f5baa" stroke-width="1.5"/>
<circle cx="872.9" cy="865.0" r="10.95" fill="#2f5baa" fill-opacity="0.6" stroke="#2f5baa" stroke-width="1.5"/>
<circle cx="851.0" cy="870.0" r="10.95" fill="#2f5baa" fill-opacity="0.6" stroke="#2f5baa" stroke-width="1.5"/>
<circle cx="948.8" cy="874.5" r="10.95" fill="#2f5baa" fill-opacity="0.6" stroke="#2f5baa" stroke-width="1.5"/>
<circle cx="994.4" cy="876.4" r="10.95" fill="#2f5baa" fill-opacity="0.6" stroke="#2f5baa" stroke-width="1.5"/>
<circle cx="867.5" cy="860.8" r="10.95" fill="#2f5baa" fill-opacity="0.6" stroke="#2f5baa" stroke-width="1.5"/>
<circle cx="887.5" cy="848.3" r="10.95" fill="#2f5baa" fill-opacity="0.6" stroke="#2f5baa" stroke-width="1.5"/>
<circle cx="840.0" cy="837.0" r="10.95" fill="#2f5baa" fill-opacity="0.6" stroke="#2f5baa" stroke-width="1.5"/>
<circle cx="880.0" cy="856.0" r="10.95" fill="#2f5baa" fill-opacity="0.6" stroke="#2f5baa" stroke-width="1.5"/>
<line x1="785.5" y1="833.6" x2="1271.6" y2="780.5" stroke="#2f5baa" stroke-width="3.1"/>
<line x1="786" y1="879.8" x2="1264.5" y2="796.2" stroke="#2f5baa" stroke-width="3.0" stroke-dasharray="3.0,4.2"/>
</g>
<line x1="761" y1="610.5" x2="793" y2="610.5" stroke="#2f5baa" stroke-width="3.0" stroke-dasharray="3.0,4.2"/>
<text transform="translate(804,619.9)" font-family="Liberation Sans, sans-serif" font-size="27.3" text-anchor="start" fill="#000" stroke="#000" stroke-width="0.25">All <tspan dx="1">(</tspan><tspan font-style="italic" dx="1.2">R</tspan><tspan dx="-1.6" dy="-12.0" font-size="17.2">2</tspan><tspan dx="-0.4" dy="12.0" font-size="27.3"> </tspan>= 0.07, <tspan font-style="italic">P</tspan> = 0.002, <tspan font-style="italic">n</tspan> = 138)</text>
<line x1="758" y1="644" x2="794" y2="644" stroke="#2f5baa" stroke-width="3.1"/>
<circle cx="775.5" cy="644.0" r="10.95" fill="#2f5baa" fill-opacity="0.6" stroke="#2f5baa" stroke-width="1.5"/>
<text transform="translate(804,655)" font-family="Liberation Sans, sans-serif" font-size="27.3" text-anchor="start" fill="#000" stroke="#000" stroke-width="0.25">Synergistic <tspan dx="1">(</tspan><tspan font-style="italic" dx="1.2">R</tspan><tspan dx="-1.6" dy="-12.0" font-size="17.2">2</tspan><tspan dx="-0.4" dy="12.0" font-size="27.3"> </tspan>= 0.09, <tspan font-style="italic">P</tspan> = 0.007, <tspan font-style="italic">n</tspan> = 79)</text>
<circle cx="775.5" cy="678.5" r="10.95" fill="#2f5baa" fill-opacity="0.0" stroke="#2f5baa" stroke-width="1.5"/>
<text transform="translate(804,688.8)" font-family="Liberation Sans, sans-serif" font-size="27.3" text-anchor="start" fill="#000" stroke="#000" stroke-width="0.25">Additive (<tspan font-style="italic">n</tspan> = 41)</text>
<circle cx="1031.0" cy="678.5" r="10.95" fill="#2f5baa" fill-opacity="0.18" stroke="#2f5baa" stroke-width="1.5"/>
<text transform="translate(1060,688.8)" font-family="Liberation Sans, sans-serif" font-size="27.3" text-anchor="start" fill="#000" stroke="#000" stroke-width="0.25">Antagonistic (<tspan font-style="italic">n</tspan> = 18)</text>
<rect x="1465" y="580.7" width="566.8" height="468.5999999999999" fill="none" stroke="#000" stroke-width="1.95"/>
<line x1="1502.3" y1="1049.3" x2="1502.3" y2="1059.2" stroke="#000" stroke-width="2.0"/>
<text transform="translate(1502.3,1090.3) scale(0.93,1)" font-family="Liberation Sans, sans-serif" font-size="33.4" text-anchor="middle" fill="#000" stroke="#000" stroke-width="0.25">0</text>
<line x1="1653.4" y1="1049.3" x2="1653.4" y2="1059.2" stroke="#000" stroke-width="2.0"/>
<text transform="translate(1653.4,1090.3) scale(0.93,1)" font-family="Liberation Sans, sans-serif" font-size="33.4" text-anchor="middle" fill="#000" stroke="#000" stroke-width="0.25">2</text>
<line x1="1804.6" y1="1049.3" x2="1804.6" y2="1059.2" stroke="#000" stroke-width="2.0"/>
<text transform="translate(1804.6,1090.3) scale(0.93,1)" font-family="Liberation Sans, sans-serif" font-size="33.4" text-anchor="middle" fill="#000" stroke="#000" stroke-width="0.25">4</text>
<line x1="1955.8" y1="1049.3" x2="1955.8" y2="1059.2" stroke="#000" stroke-width="2.0"/>
<text transform="translate(1955.8,1090.3) scale(0.93,1)" font-family="Liberation Sans, sans-serif" font-size="33.4" text-anchor="middle" fill="#000" stroke="#000" stroke-width="0.25">6</text>
<line x1="1455.8" y1="654.7" x2="1465" y2="654.7" stroke="#000" stroke-width="2.0"/>
<text transform="translate(1449.3,664.3000000000001) scale(0.93,1)" font-family="Liberation Sans, sans-serif" font-size="31.9" text-anchor="end" fill="#000" stroke="#000" stroke-width="0.25">1.0</text>
<line x1="1455.8" y1="777.9000000000001" x2="1465" y2="777.9000000000001" stroke="#000" stroke-width="2.0"/>
<text transform="translate(1449.3,787.5000000000001) scale(0.93,1)" font-family="Liberation Sans, sans-serif" font-size="31.9" text-anchor="end" fill="#000" stroke="#000" stroke-width="0.25">0.5</text>
<line x1="1455.8" y1="901.1" x2="1465" y2="901.1" stroke="#000" stroke-width="2.0"/>
<text transform="translate(1449.3,910.7) scale(0.93,1)" font-family="Liberation Sans, sans-serif" font-size="31.9" text-anchor="end" fill="#000" stroke="#000" stroke-width="0.25">0.0</text>
<line x1="1455.8" y1="1024.3000000000002" x2="1465" y2="1024.3000000000002" stroke="#000" stroke-width="2.0"/>
<text transform="translate(1449.3,1033.9) scale(0.93,1)" font-family="Liberation Sans, sans-serif" font-size="31.9" text-anchor="end" fill="#000" stroke="#000" stroke-width="0.25">−0.5</text>
<text transform="translate(1748,1131.5) scale(0.99,1)" font-family="Liberation Sans, sans-serif" font-size="35.2" text-anchor="middle" fill="#000" stroke="#000" stroke-width="0.25">CTs:N</text>
<text transform="translate(1388,814) rotate(-90) scale(0.96,1)" font-family="Liberation Sans, sans-serif" font-size="35.3" text-anchor="middle" fill="#000" stroke="#000" stroke-width="0.25">Mixing effect</text>
<text transform="translate(1368,610.8)" font-family="Liberation Sans, sans-serif" font-size="40.5" text-anchor="start" fill="#000" font-weight="bold" stroke="#000" stroke-width="0.25">f</text>
<g>
<circle cx="1502.3" cy="877.0" r="10.95" fill="#8a9e2e" fill-opacity="0.0" stroke="#8a9e2e" stroke-width="1.5"/>
<circle cx="1504.8" cy="884.5" r="10.95" fill="#8a9e2e" fill-opacity="0.0" stroke="#8a9e2e" stroke-width="1.5"/>
<circle cx="1511.0" cy="888.3" r="10.95" fill="#8a9e2e" fill-opacity="0.0" stroke="#8a9e2e" stroke-width="1.5"/>
<circle cx="1516.0" cy="894.5" r="10.95" fill="#8a9e2e" fill-opacity="0.0" stroke="#8a9e2e" stroke-width="1.5"/>
<circle cx="1511.0" cy="897.0" r="10.95" fill="#8a9e2e" fill-opacity="0.0" stroke="#8a9e2e" stroke-width="1.5"/>
<circle cx="1518.5" cy="910.8" r="10.95" fill="#8a9e2e" fill-opacity="0.0" stroke="#8a9e2e" stroke-width="1.5"/>
<circle cx="1517.5" cy="912.0" r="10.95" fill="#8a9e2e" fill-opacity="0.0" stroke="#8a9e2e" stroke-width="1.5"/>
<circle cx="1508.5" cy="882.0" r="10.95" fill="#8a9e2e" fill-opacity="0.0" stroke="#8a9e2e" stroke-width="1.5"/>
<circle cx="1513.5" cy="885.8" r="10.95" fill="#8a9e2e" fill-opacity="0.0" stroke="#8a9e2e" stroke-width="1.5"/>
<circle cx="1543.5" cy="885.8" r="10.95" fill="#8a9e2e" fill-opacity="0.0" stroke="#8a9e2e" stroke-width="1.5"/>
<circle cx="1557.3" cy="884.5" r="10.95" fill="#8a9e2e" fill-opacity="0.0" stroke="#8a9e2e" stroke-width="1.5"/>
<circle cx="1563.5" cy="885.8" r="10.95" fill="#8a9e2e" fill-opacity="0.0" stroke="#8a9e2e" stroke-width="1.5"/>
<circle cx="1564.1" cy="893.3" r="10.95" fill="#8a9e2e" fill-opacity="0.0" stroke="#8a9e2e" stroke-width="1.5"/>
<circle cx="1578.5" cy="894.5" r="10.95" fill="#8a9e2e" fill-opacity="0.0" stroke="#8a9e2e" stroke-width="1.5"/>
<circle cx="1592.3" cy="885.8" r="10.95" fill="#8a9e2e" fill-opacity="0.0" stroke="#8a9e2e" stroke-width="1.5"/>
<circle cx="1594.8" cy="889.5" r="10.95" fill="#8a9e2e" fill-opacity="0.0" stroke="#8a9e2e" stroke-width="1.5"/>
<circle cx="1592.3" cy="898.3" r="10.95" fill="#8a9e2e" fill-opacity="0.0" stroke="#8a9e2e" stroke-width="1.5"/>
<circle cx="1591.0" cy="904.5" r="10.95" fill="#8a9e2e" fill-opacity="0.0" stroke="#8a9e2e" stroke-width="1.5"/>
<circle cx="1591.6" cy="925.3" r="10.95" fill="#8a9e2e" fill-opacity="0.0" stroke="#8a9e2e" stroke-width="1.5"/>
<circle cx="1548.6" cy="917.0" r="10.95" fill="#8a9e2e" fill-opacity="0.0" stroke="#8a9e2e" stroke-width="1.5"/>
<circle cx="1630.3" cy="883.4" r="10.95" fill="#8a9e2e" fill-opacity="0.0" stroke="#8a9e2e" stroke-width="1.5"/>
<circle cx="1636.0" cy="857.0" r="10.95" fill="#8a9e2e" fill-opacity="0.0" stroke="#8a9e2e" stroke-width="1.5"/>
<circle cx="1654.8" cy="863.6" r="10.95" fill="#8a9e2e" fill-opacity="0.0" stroke="#8a9e2e" stroke-width="1.5"/>
<circle cx="1667.5" cy="874.8" r="10.95" fill="#8a9e2e" fill-opacity="0.0" stroke="#8a9e2e" stroke-width="1.5"/>
<circle cx="1681.8" cy="881.0" r="10.95" fill="#8a9e2e" fill-opacity="0.0" stroke="#8a9e2e" stroke-width="1.5"/>
<circle cx="1697.0" cy="881.0" r="10.95" fill="#8a9e2e" fill-opacity="0.0" stroke="#8a9e2e" stroke-width="1.5"/>
<circle cx="1711.8" cy="876.8" r="10.95" fill="#8a9e2e" fill-opacity="0.0" stroke="#8a9e2e" stroke-width="1.5"/>
<circle cx="1719.0" cy="886.4" r="10.95" fill="#8a9e2e" fill-opacity="0.0" stroke="#8a9e2e" stroke-width="1.5"/>
<circle cx="1665.8" cy="920.2" r="10.95" fill="#8a9e2e" fill-opacity="0.0" stroke="#8a9e2e" stroke-width="1.5"/>
<circle cx="1672.6" cy="927.8" r="10.95" fill="#8a9e2e" fill-opacity="0.0" stroke="#8a9e2e" stroke-width="1.5"/>
<circle cx="1700.2" cy="923.2" r="10.95" fill="#8a9e2e" fill-opacity="0.0" stroke="#8a9e2e" stroke-width="1.5"/>
<circle cx="1848.3" cy="870.0" r="10.95" fill="#8a9e2e" fill-opacity="0.0" stroke="#8a9e2e" stroke-width="1.5"/>
<circle cx="1527.0" cy="933.0" r="10.95" fill="#8a9e2e" fill-opacity="0.0" stroke="#8a9e2e" stroke-width="1.5"/>
<circle cx="1528.5" cy="934.5" r="10.95" fill="#8a9e2e" fill-opacity="0.0" stroke="#8a9e2e" stroke-width="1.5"/>
<circle cx="1572.0" cy="887.0" r="10.95" fill="#8a9e2e" fill-opacity="0.0" stroke="#8a9e2e" stroke-width="1.5"/>
<circle cx="1550.0" cy="880.0" r="10.95" fill="#8a9e2e" fill-opacity="0.0" stroke="#8a9e2e" stroke-width="1.5"/>
<circle cx="1585.0" cy="880.0" r="10.95" fill="#8a9e2e" fill-opacity="0.0" stroke="#8a9e2e" stroke-width="1.5"/>
<circle cx="1600.0" cy="882.0" r="10.95" fill="#8a9e2e" fill-opacity="0.0" stroke="#8a9e2e" stroke-width="1.5"/>
<circle cx="1520.0" cy="880.0" r="10.95" fill="#8a9e2e" fill-opacity="0.0" stroke="#8a9e2e" stroke-width="1.5"/>
<circle cx="1498.0" cy="870.0" r="10.95" fill="#8a9e2e" fill-opacity="0.0" stroke="#8a9e2e" stroke-width="1.5"/>
<circle cx="1575.0" cy="878.0" r="10.95" fill="#8a9e2e" fill-opacity="0.0" stroke="#8a9e2e" stroke-width="1.5"/>
<circle cx="1535.9" cy="1024.7" r="10.95" fill="#8a9e2e" fill-opacity="0.18" stroke="#8a9e2e" stroke-width="1.5"/>
<circle cx="1608.0" cy="1021.2" r="10.95" fill="#8a9e2e" fill-opacity="0.18" stroke="#8a9e2e" stroke-width="1.5"/>
<circle cx="1581.8" cy="1003.3" r="10.95" fill="#8a9e2e" fill-opacity="0.18" stroke="#8a9e2e" stroke-width="1.5"/>
<circle cx="1644.3" cy="992.9" r="10.95" fill="#8a9e2e" fill-opacity="0.18" stroke="#8a9e2e" stroke-width="1.5"/>
<circle cx="1531.7" cy="995.7" r="10.95" fill="#8a9e2e" fill-opacity="0.18" stroke="#8a9e2e" stroke-width="1.5"/>
<circle cx="1533.5" cy="974.7" r="10.95" fill="#8a9e2e" fill-opacity="0.18" stroke="#8a9e2e" stroke-width="1.5"/>
<circle cx="1542.2" cy="966.0" r="10.95" fill="#8a9e2e" fill-opacity="0.18" stroke="#8a9e2e" stroke-width="1.5"/>
<circle cx="1502.6" cy="968.5" r="10.95" fill="#8a9e2e" fill-opacity="0.18" stroke="#8a9e2e" stroke-width="1.5"/>
<circle cx="1502.6" cy="963.4" r="10.95" fill="#8a9e2e" fill-opacity="0.18" stroke="#8a9e2e" stroke-width="1.5"/>
<circle cx="1512.0" cy="952.2" r="10.95" fill="#8a9e2e" fill-opacity="0.18" stroke="#8a9e2e" stroke-width="1.5"/>
<circle cx="1503.0" cy="949.0" r="10.95" fill="#8a9e2e" fill-opacity="0.18" stroke="#8a9e2e" stroke-width="1.5"/>
<circle cx="1540.5" cy="943.6" r="10.95" fill="#8a9e2e" fill-opacity="0.18" stroke="#8a9e2e" stroke-width="1.5"/>
<circle cx="1546.5" cy="944.3" r="10.95" fill="#8a9e2e" fill-opacity="0.18" stroke="#8a9e2e" stroke-width="1.5"/>
<circle cx="1529.5" cy="934.0" r="10.95" fill="#8a9e2e" fill-opacity="0.18" stroke="#8a9e2e" stroke-width="1.5"/>
<circle cx="1578.4" cy="940.6" r="10.95" fill="#8a9e2e" fill-opacity="0.18" stroke="#8a9e2e" stroke-width="1.5"/>
<circle cx="1589.6" cy="939.8" r="10.95" fill="#8a9e2e" fill-opacity="0.18" stroke="#8a9e2e" stroke-width="1.5"/>
<circle cx="1653.3" cy="929.3" r="10.95" fill="#8a9e2e" fill-opacity="0.18" stroke="#8a9e2e" stroke-width="1.5"/>
<circle cx="1532.0" cy="932.5" r="10.95" fill="#8a9e2e" fill-opacity="0.18" stroke="#8a9e2e" stroke-width="1.5"/>
<circle cx="1649.1" cy="734.4" r="10.95" fill="#8a9e2e" fill-opacity="0.6" stroke="#8a9e2e" stroke-width="1.5"/>
<circle cx="1505.0" cy="760.0" r="10.95" fill="#8a9e2e" fill-opacity="0.6" stroke="#8a9e2e" stroke-width="1.5"/>
<circle cx="1514.5" cy="768.1" r="10.95" fill="#8a9e2e" fill-opacity="0.6" stroke="#8a9e2e" stroke-width="1.5"/>
<circle cx="1706.6" cy="760.6" r="10.95" fill="#8a9e2e" fill-opacity="0.6" stroke="#8a9e2e" stroke-width="1.5"/>
<circle cx="1602.6" cy="768.1" r="10.95" fill="#8a9e2e" fill-opacity="0.6" stroke="#8a9e2e" stroke-width="1.5"/>
<circle cx="1626.6" cy="763.8" r="10.95" fill="#8a9e2e" fill-opacity="0.6" stroke="#8a9e2e" stroke-width="1.5"/>
<circle cx="1631.0" cy="764.4" r="10.95" fill="#8a9e2e" fill-opacity="0.6" stroke="#8a9e2e" stroke-width="1.5"/>
<circle cx="1639.1" cy="762.5" r="10.95" fill="#8a9e2e" fill-opacity="0.6" stroke="#8a9e2e" stroke-width="1.5"/>
<circle cx="1669.1" cy="775.6" r="10.95" fill="#8a9e2e" fill-opacity="0.6" stroke="#8a9e2e" stroke-width="1.5"/>
<circle cx="1681.0" cy="774.4" r="10.95" fill="#8a9e2e" fill-opacity="0.6" stroke="#8a9e2e" stroke-width="1.5"/>
<circle cx="1687.3" cy="797.5" r="10.95" fill="#8a9e2e" fill-opacity="0.6" stroke="#8a9e2e" stroke-width="1.5"/>
<circle cx="1715.8" cy="805.0" r="10.95" fill="#8a9e2e" fill-opacity="0.6" stroke="#8a9e2e" stroke-width="1.5"/>
<circle cx="1587.3" cy="783.1" r="10.95" fill="#8a9e2e" fill-opacity="0.6" stroke="#8a9e2e" stroke-width="1.5"/>
<circle cx="1592.3" cy="783.8" r="10.95" fill="#8a9e2e" fill-opacity="0.6" stroke="#8a9e2e" stroke-width="1.5"/>
<circle cx="1604.1" cy="786.3" r="10.95" fill="#8a9e2e" fill-opacity="0.6" stroke="#8a9e2e" stroke-width="1.5"/>
<circle cx="1618.5" cy="788.5" r="10.95" fill="#8a9e2e" fill-opacity="0.6" stroke="#8a9e2e" stroke-width="1.5"/>
<circle cx="1516.6" cy="782.5" r="10.95" fill="#8a9e2e" fill-opacity="0.6" stroke="#8a9e2e" stroke-width="1.5"/>
<circle cx="1512.3" cy="781.3" r="10.95" fill="#8a9e2e" fill-opacity="0.6" stroke="#8a9e2e" stroke-width="1.5"/>
<circle cx="1502.3" cy="789.4" r="10.95" fill="#8a9e2e" fill-opacity="0.6" stroke="#8a9e2e" stroke-width="1.5"/>
<circle cx="1532.3" cy="793.1" r="10.95" fill="#8a9e2e" fill-opacity="0.6" stroke="#8a9e2e" stroke-width="1.5"/>
<circle cx="1547.9" cy="794.4" r="10.95" fill="#8a9e2e" fill-opacity="0.6" stroke="#8a9e2e" stroke-width="1.5"/>
<circle cx="1558.5" cy="798.1" r="10.95" fill="#8a9e2e" fill-opacity="0.6" stroke="#8a9e2e" stroke-width="1.5"/>
<circle cx="1567.3" cy="805.6" r="10.95" fill="#8a9e2e" fill-opacity="0.6" stroke="#8a9e2e" stroke-width="1.5"/>
<circle cx="1506.6" cy="803.8" r="10.95" fill="#8a9e2e" fill-opacity="0.6" stroke="#8a9e2e" stroke-width="1.5"/>
<circle cx="1517.3" cy="808.1" r="10.95" fill="#8a9e2e" fill-opacity="0.6" stroke="#8a9e2e" stroke-width="1.5"/>
<circle cx="1601.6" cy="802.5" r="10.95" fill="#8a9e2e" fill-opacity="0.6" stroke="#8a9e2e" stroke-width="1.5"/>
<circle cx="1601.6" cy="808.8" r="10.95" fill="#8a9e2e" fill-opacity="0.6" stroke="#8a9e2e" stroke-width="1.5"/>
<circle cx="1504.1" cy="823.1" r="10.95" fill="#8a9e2e" fill-opacity="0.6" stroke="#8a9e2e" stroke-width="1.5"/>
<circle cx="1514.8" cy="818.8" r="10.95" fill="#8a9e2e" fill-opacity="0.6" stroke="#8a9e2e" stroke-width="1.5"/>
<circle cx="1522.3" cy="825.0" r="10.95" fill="#8a9e2e" fill-opacity="0.6" stroke="#8a9e2e" stroke-width="1.5"/>
<circle cx="1533.5" cy="820.0" r="10.95" fill="#8a9e2e" fill-opacity="0.6" stroke="#8a9e2e" stroke-width="1.5"/>
<circle cx="1559.8" cy="821.3" r="10.95" fill="#8a9e2e" fill-opacity="0.6" stroke="#8a9e2e" stroke-width="1.5"/>
<circle cx="1578.5" cy="820.6" r="10.95" fill="#8a9e2e" fill-opacity="0.6" stroke="#8a9e2e" stroke-width="1.5"/>
<circle cx="1571.0" cy="831.3" r="10.95" fill="#8a9e2e" fill-opacity="0.6" stroke="#8a9e2e" stroke-width="1.5"/>
<circle cx="1566.0" cy="827.5" r="10.95" fill="#8a9e2e" fill-opacity="0.6" stroke="#8a9e2e" stroke-width="1.5"/>
<circle cx="1576.0" cy="828.8" r="10.95" fill="#8a9e2e" fill-opacity="0.6" stroke="#8a9e2e" stroke-width="1.5"/>
<circle cx="1581.0" cy="826.3" r="10.95" fill="#8a9e2e" fill-opacity="0.6" stroke="#8a9e2e" stroke-width="1.5"/>
<circle cx="1544.8" cy="832.5" r="10.95" fill="#8a9e2e" fill-opacity="0.6" stroke="#8a9e2e" stroke-width="1.5"/>
<circle cx="1599.8" cy="822.5" r="10.95" fill="#8a9e2e" fill-opacity="0.6" stroke="#8a9e2e" stroke-width="1.5"/>
<circle cx="1608.5" cy="832.5" r="10.95" fill="#8a9e2e" fill-opacity="0.6" stroke="#8a9e2e" stroke-width="1.5"/>
<circle cx="1622.9" cy="835.0" r="10.95" fill="#8a9e2e" fill-opacity="0.6" stroke="#8a9e2e" stroke-width="1.5"/>
<circle cx="1515.4" cy="842.5" r="10.95" fill="#8a9e2e" fill-opacity="0.6" stroke="#8a9e2e" stroke-width="1.5"/>
<circle cx="1526.0" cy="838.8" r="10.95" fill="#8a9e2e" fill-opacity="0.6" stroke="#8a9e2e" stroke-width="1.5"/>
<circle cx="1527.3" cy="845.0" r="10.95" fill="#8a9e2e" fill-opacity="0.6" stroke="#8a9e2e" stroke-width="1.5"/>
<circle cx="1649.1" cy="840.6" r="10.95" fill="#8a9e2e" fill-opacity="0.6" stroke="#8a9e2e" stroke-width="1.5"/>
<circle cx="1643.5" cy="845.0" r="10.95" fill="#8a9e2e" fill-opacity="0.6" stroke="#8a9e2e" stroke-width="1.5"/>
<circle cx="1640.0" cy="846.3" r="10.95" fill="#8a9e2e" fill-opacity="0.6" stroke="#8a9e2e" stroke-width="1.5"/>
<circle cx="1618.5" cy="845.0" r="10.95" fill="#8a9e2e" fill-opacity="0.6" stroke="#8a9e2e" stroke-width="1.5"/>
<circle cx="1596.0" cy="837.5" r="10.95" fill="#8a9e2e" fill-opacity="0.6" stroke="#8a9e2e" stroke-width="1.5"/>
<circle cx="1567.3" cy="842.5" r="10.95" fill="#8a9e2e" fill-opacity="0.6" stroke="#8a9e2e" stroke-width="1.5"/>
<circle cx="1683.5" cy="845.6" r="10.95" fill="#8a9e2e" fill-opacity="0.6" stroke="#8a9e2e" stroke-width="1.5"/>
<circle cx="1697.3" cy="845.0" r="10.95" fill="#8a9e2e" fill-opacity="0.6" stroke="#8a9e2e" stroke-width="1.5"/>
<circle cx="1716.0" cy="845.0" r="10.95" fill="#8a9e2e" fill-opacity="0.6" stroke="#8a9e2e" stroke-width="1.5"/>
<circle cx="1681.0" cy="853.3" r="10.95" fill="#8a9e2e" fill-opacity="0.6" stroke="#8a9e2e" stroke-width="1.5"/>
<circle cx="1502.3" cy="863.3" r="10.95" fill="#8a9e2e" fill-opacity="0.6" stroke="#8a9e2e" stroke-width="1.5"/>
<circle cx="1527.3" cy="872.0" r="10.95" fill="#8a9e2e" fill-opacity="0.6" stroke="#8a9e2e" stroke-width="1.5"/>
<circle cx="1533.5" cy="869.5" r="10.95" fill="#8a9e2e" fill-opacity="0.6" stroke="#8a9e2e" stroke-width="1.5"/>
<circle cx="1539.8" cy="870.8" r="10.95" fill="#8a9e2e" fill-opacity="0.6" stroke="#8a9e2e" stroke-width="1.5"/>
<circle cx="1546.0" cy="872.0" r="10.95" fill="#8a9e2e" fill-opacity="0.6" stroke="#8a9e2e" stroke-width="1.5"/>
<circle cx="1551.0" cy="869.5" r="10.95" fill="#8a9e2e" fill-opacity="0.6" stroke="#8a9e2e" stroke-width="1.5"/>
<circle cx="1556.0" cy="873.3" r="10.95" fill="#8a9e2e" fill-opacity="0.6" stroke="#8a9e2e" stroke-width="1.5"/>
<circle cx="1536.0" cy="874.5" r="10.95" fill="#8a9e2e" fill-opacity="0.6" stroke="#8a9e2e" stroke-width="1.5"/>
<circle cx="1566.0" cy="867.0" r="10.95" fill="#8a9e2e" fill-opacity="0.6" stroke="#8a9e2e" stroke-width="1.5"/>
<circle cx="1589.8" cy="863.3" r="10.95" fill="#8a9e2e" fill-opacity="0.6" stroke="#8a9e2e" stroke-width="1.5"/>
<circle cx="1588.0" cy="865.0" r="10.95" fill="#8a9e2e" fill-opacity="0.6" stroke="#8a9e2e" stroke-width="1.5"/>
<circle cx="1589.8" cy="873.3" r="10.95" fill="#8a9e2e" fill-opacity="0.6" stroke="#8a9e2e" stroke-width="1.5"/>
<circle cx="1598.5" cy="873.3" r="10.95" fill="#8a9e2e" fill-opacity="0.6" stroke="#8a9e2e" stroke-width="1.5"/>
<circle cx="1616.0" cy="877.0" r="10.95" fill="#8a9e2e" fill-opacity="0.6" stroke="#8a9e2e" stroke-width="1.5"/>
<circle cx="1603.5" cy="852.0" r="10.95" fill="#8a9e2e" fill-opacity="0.6" stroke="#8a9e2e" stroke-width="1.5"/>
<circle cx="1621.0" cy="850.8" r="10.95" fill="#8a9e2e" fill-opacity="0.6" stroke="#8a9e2e" stroke-width="1.5"/>
<circle cx="1527.3" cy="850.8" r="10.95" fill="#8a9e2e" fill-opacity="0.6" stroke="#8a9e2e" stroke-width="1.5"/>
<circle cx="1548.5" cy="863.3" r="10.95" fill="#8a9e2e" fill-opacity="0.6" stroke="#8a9e2e" stroke-width="1.5"/>
<circle cx="1563.5" cy="847.0" r="10.95" fill="#8a9e2e" fill-opacity="0.6" stroke="#8a9e2e" stroke-width="1.5"/>
<circle cx="1905.8" cy="736.7" r="10.95" fill="#8a9e2e" fill-opacity="0.6" stroke="#8a9e2e" stroke-width="1.5"/>
<circle cx="1807.2" cy="754.2" r="10.95" fill="#8a9e2e" fill-opacity="0.6" stroke="#8a9e2e" stroke-width="1.5"/>
<circle cx="1850.4" cy="784.6" r="10.95" fill="#8a9e2e" fill-opacity="0.6" stroke="#8a9e2e" stroke-width="1.5"/>
<circle cx="1975.5" cy="794.7" r="10.95" fill="#8a9e2e" fill-opacity="0.6" stroke="#8a9e2e" stroke-width="1.5"/>
<circle cx="1798.2" cy="850.0" r="10.95" fill="#8a9e2e" fill-opacity="0.6" stroke="#8a9e2e" stroke-width="1.5"/>
<line x1="1498.2" y1="833.2" x2="1980.2" y2="777" stroke="#8a9e2e" stroke-width="3.1"/>
<line x1="1499" y1="878.4" x2="1976.5" y2="787.4" stroke="#8a9e2e" stroke-width="3.0" stroke-dasharray="3.0,4.2"/>
</g>
<line x1="1473" y1="606.5" x2="1505" y2="606.5" stroke="#8a9e2e" stroke-width="3.0" stroke-dasharray="3.0,4.2"/>
<text transform="translate(1515,615.5)" font-family="Liberation Sans, sans-serif" font-size="27.3" text-anchor="start" fill="#000" stroke="#000" stroke-width="0.25">All <tspan dx="1">(</tspan><tspan font-style="italic" dx="1.2">R</tspan><tspan dx="-1.6" dy="-12.0" font-size="17.2">2</tspan><tspan dx="-0.4" dy="12.0" font-size="27.3"> </tspan>= 0.07, <tspan font-style="italic">P</tspan> = 0.002, <tspan font-style="italic">n</tspan> = 138)</text>
<line x1="1471" y1="640.6" x2="1507" y2="640.6" stroke="#8a9e2e" stroke-width="3.1"/>
<circle cx="1489.0" cy="640.4" r="10.95" fill="#8a9e2e" fill-opacity="0.6" stroke="#8a9e2e" stroke-width="1.5"/>
<text transform="translate(1515,649)" font-family="Liberation Sans, sans-serif" font-size="27.3" text-anchor="start" fill="#000" stroke="#000" stroke-width="0.25">Synergistic <tspan dx="1">(</tspan><tspan font-style="italic" dx="1.2">R</tspan><tspan dx="-1.6" dy="-12.0" font-size="17.2">2</tspan><tspan dx="-0.4" dy="12.0" font-size="27.3"> </tspan>= 0.08, <tspan font-style="italic">P</tspan> = 0.012, <tspan font-style="italic">n</tspan> = 79)</text>
<circle cx="1489.0" cy="670.5" r="10.95" fill="#8a9e2e" fill-opacity="0.0" stroke="#8a9e2e" stroke-width="1.5"/>
<text transform="translate(1515,679.5)" font-family="Liberation Sans, sans-serif" font-size="27.3" text-anchor="start" fill="#000" stroke="#000" stroke-width="0.25">Additive (<tspan font-style="italic">n</tspan> = 41)</text>
<circle cx="1738.5" cy="670.5" r="10.95" fill="#8a9e2e" fill-opacity="0.18" stroke="#8a9e2e" stroke-width="1.5"/>
<text transform="translate(1765,679.5)" font-family="Liberation Sans, sans-serif" font-size="27.3" text-anchor="start" fill="#000" stroke="#000" stroke-width="0.25">Antagonistic (<tspan font-style="italic">n</tspan> = 18)</text>
</svg></body></html>
